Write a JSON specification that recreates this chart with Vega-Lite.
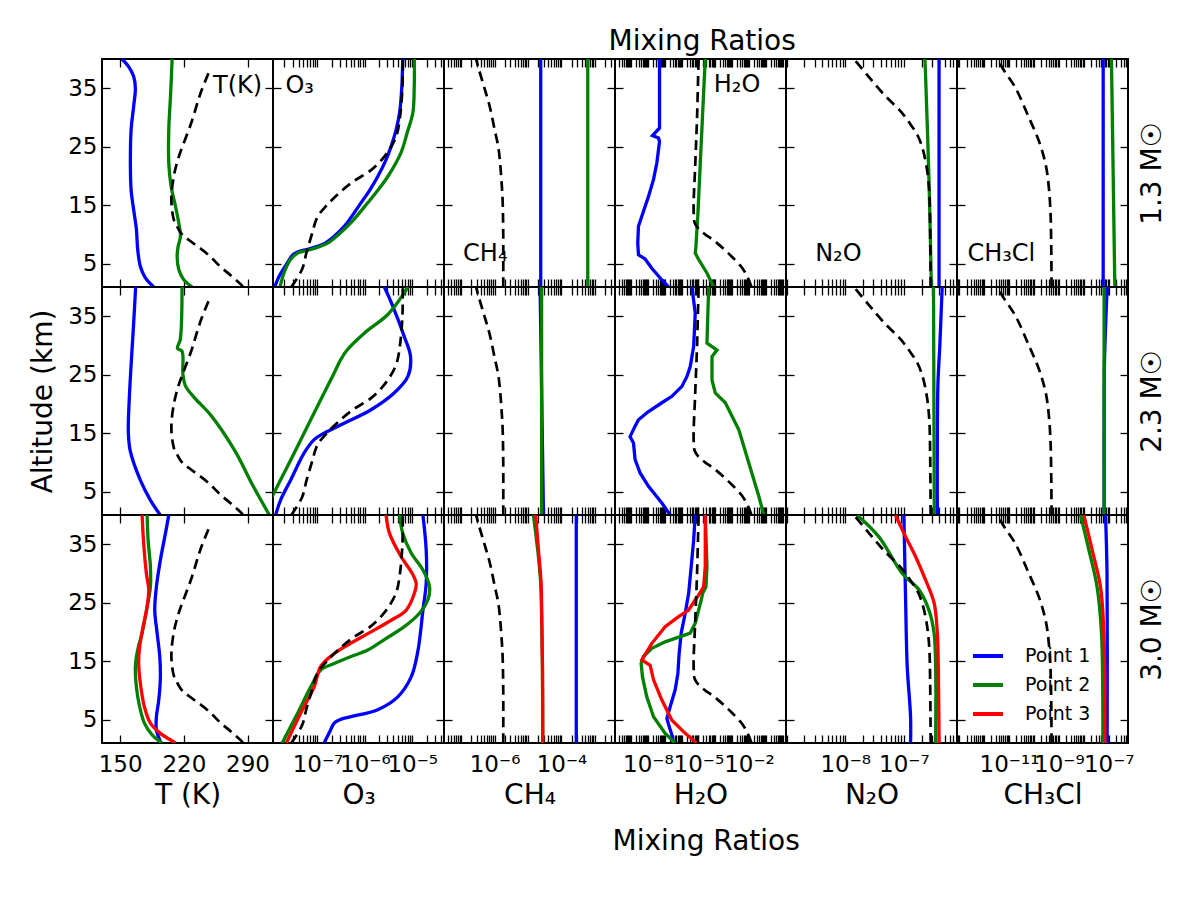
{
  "$schema": "https://vega.github.io/schema/vega-lite/v6.json",
  "background": "white",
  "padding": {"left": 28, "top": 27, "right": 10, "bottom": 10},
  "title": {"text": "Mixing Ratios", "anchor": "middle", "frame": "bounds", "dx": 104, "offset": 1.5},
  "datasets": {
    "pts": [
      {"m":"1.3","g":"T","s":"Point 1","z":40,"v":152},{"m":"1.3","g":"T","s":"Point 1","z":38.7,"v":159.3},{"m":"1.3","g":"T","s":"Point 1","z":37,"v":164.8},{"m":"1.3","g":"T","s":"Point 1","z":35,"v":166.7},{"m":"1.3","g":"T","s":"Point 1","z":31.9,"v":164.8},{"m":"1.3","g":"T","s":"Point 1","z":27.9,"v":162},{"m":"1.3","g":"T","s":"Point 1","z":22.2,"v":161.2},{"m":"1.3","g":"T","s":"Point 1","z":17.6,"v":162},{"m":"1.3","g":"T","s":"Point 1","z":14.2,"v":164.8},{"m":"1.3","g":"T","s":"Point 1","z":10.9,"v":167.8},{"m":"1.3","g":"T","s":"Point 1","z":7.5,"v":169.2},{"m":"1.3","g":"T","s":"Point 1","z":4.5,"v":172.2},{"m":"1.3","g":"T","s":"Point 1","z":2.55,"v":177.7},{"m":"1.3","g":"T","s":"Point 1","z":1,"v":186.9},
      {"m":"1.3","g":"T","s":"Point 2","z":40,"v":207.1},{"m":"1.3","g":"T","s":"Point 2","z":33.6,"v":205.3},{"m":"1.3","g":"T","s":"Point 2","z":27.9,"v":203.4},{"m":"1.3","g":"T","s":"Point 2","z":22.2,"v":203.4},{"m":"1.3","g":"T","s":"Point 2","z":18.2,"v":206},{"m":"1.3","g":"T","s":"Point 2","z":14.8,"v":210.8},{"m":"1.3","g":"T","s":"Point 2","z":11.95,"v":214.4},{"m":"1.3","g":"T","s":"Point 2","z":9.7,"v":216.3},{"m":"1.3","g":"T","s":"Point 2","z":7.95,"v":213.7},{"m":"1.3","g":"T","s":"Point 2","z":6.2,"v":212.6},{"m":"1.3","g":"T","s":"Point 2","z":4,"v":214.4},{"m":"1.3","g":"T","s":"Point 2","z":2.25,"v":219.9},{"m":"1.3","g":"T","s":"Point 2","z":1,"v":229.2},
      {"m":"2.3","g":"T","s":"Point 1","z":40,"v":167},{"m":"2.3","g":"T","s":"Point 1","z":33,"v":164.5},{"m":"2.3","g":"T","s":"Point 1","z":24,"v":161},{"m":"2.3","g":"T","s":"Point 1","z":17,"v":159},{"m":"2.3","g":"T","s":"Point 1","z":15,"v":159},{"m":"2.3","g":"T","s":"Point 1","z":12,"v":161},{"m":"2.3","g":"T","s":"Point 1","z":7,"v":172},{"m":"2.3","g":"T","s":"Point 1","z":3.6,"v":183},{"m":"2.3","g":"T","s":"Point 1","z":1,"v":194},
      {"m":"2.3","g":"T","s":"Point 2","z":40,"v":218},{"m":"2.3","g":"T","s":"Point 2","z":31,"v":216},{"m":"2.3","g":"T","s":"Point 2","z":29.5,"v":213},{"m":"2.3","g":"T","s":"Point 2","z":29,"v":218},{"m":"2.3","g":"T","s":"Point 2","z":25,"v":219},{"m":"2.3","g":"T","s":"Point 2","z":23,"v":222},{"m":"2.3","g":"T","s":"Point 2","z":21,"v":232},{"m":"2.3","g":"T","s":"Point 2","z":18,"v":250},{"m":"2.3","g":"T","s":"Point 2","z":12,"v":276},{"m":"2.3","g":"T","s":"Point 2","z":6,"v":296},{"m":"2.3","g":"T","s":"Point 2","z":1,"v":314},
      {"m":"3.0","g":"T","s":"Point 1","z":40,"v":203.4},{"m":"3.0","g":"T","s":"Point 1","z":36.9,"v":199.8},{"m":"3.0","g":"T","s":"Point 1","z":32.3,"v":194.2},{"m":"3.0","g":"T","s":"Point 1","z":27.7,"v":189.8},{"m":"3.0","g":"T","s":"Point 1","z":23.75,"v":188},{"m":"3.0","g":"T","s":"Point 1","z":19.8,"v":190.6},{"m":"3.0","g":"T","s":"Point 1","z":15.8,"v":193.5},{"m":"3.0","g":"T","s":"Point 1","z":12.3,"v":194.2},{"m":"3.0","g":"T","s":"Point 1","z":8.35,"v":192.4},{"m":"3.0","g":"T","s":"Point 1","z":5.5,"v":189.8},{"m":"3.0","g":"T","s":"Point 1","z":3.2,"v":189.8},{"m":"3.0","g":"T","s":"Point 1","z":1.5,"v":193.5},{"m":"3.0","g":"T","s":"Point 1","z":1,"v":194.5},
      {"m":"3.0","g":"T","s":"Point 2","z":40,"v":179.6},{"m":"3.0","g":"T","s":"Point 2","z":35.7,"v":180.7},{"m":"3.0","g":"T","s":"Point 2","z":31.2,"v":183.2},{"m":"3.0","g":"T","s":"Point 2","z":27.7,"v":183.2},{"m":"3.0","g":"T","s":"Point 2","z":24.3,"v":179.6},{"m":"3.0","g":"T","s":"Point 2","z":19.8,"v":174.1},{"m":"3.0","g":"T","s":"Point 2","z":16.9,"v":169.2},{"m":"3.0","g":"T","s":"Point 2","z":14.05,"v":166.7},{"m":"3.0","g":"T","s":"Point 2","z":10.6,"v":167.8},{"m":"3.0","g":"T","s":"Point 2","z":7.2,"v":171.4},{"m":"3.0","g":"T","s":"Point 2","z":4.4,"v":176.6},{"m":"3.0","g":"T","s":"Point 2","z":2.4,"v":185.1},{"m":"3.0","g":"T","s":"Point 2","z":1,"v":196},
      {"m":"3.0","g":"T","s":"Point 3","z":40,"v":174.1},{"m":"3.0","g":"T","s":"Point 3","z":35.2,"v":175.8},{"m":"3.0","g":"T","s":"Point 3","z":30,"v":178.8},{"m":"3.0","g":"T","s":"Point 3","z":27.2,"v":181.4},{"m":"3.0","g":"T","s":"Point 3","z":24.3,"v":179.6},{"m":"3.0","g":"T","s":"Point 3","z":20.9,"v":175.2},{"m":"3.0","g":"T","s":"Point 3","z":17.5,"v":171.4},{"m":"3.0","g":"T","s":"Point 3","z":14.6,"v":170.3},{"m":"3.0","g":"T","s":"Point 3","z":11.2,"v":172.2},{"m":"3.0","g":"T","s":"Point 3","z":7.2,"v":176.6},{"m":"3.0","g":"T","s":"Point 3","z":4.4,"v":183.2},{"m":"3.0","g":"T","s":"Point 3","z":2.65,"v":194.2},{"m":"3.0","g":"T","s":"Point 3","z":1.2,"v":208.9},{"m":"3.0","g":"T","s":"Point 3","z":1,"v":211},

      {"m":"1.3","g":"O3","s":"Point 1","z":40,"v":6.3e-6},{"m":"1.3","g":"O3","s":"Point 1","z":35,"v":6.0e-6},{"m":"1.3","g":"O3","s":"Point 1","z":30.8,"v":5.4e-6},{"m":"1.3","g":"O3","s":"Point 1","z":28,"v":4.6e-6},{"m":"1.3","g":"O3","s":"Point 1","z":25.1,"v":3.6e-6},{"m":"1.3","g":"O3","s":"Point 1","z":22.5,"v":2.7e-6},{"m":"1.3","g":"O3","s":"Point 1","z":19.9,"v":1.87e-6},{"m":"1.3","g":"O3","s":"Point 1","z":17.5,"v":1.25e-6},{"m":"1.3","g":"O3","s":"Point 1","z":15.4,"v":8.3e-7},{"m":"1.3","g":"O3","s":"Point 1","z":13.3,"v":5.5e-7},{"m":"1.3","g":"O3","s":"Point 1","z":11.4,"v":3.7e-7},{"m":"1.3","g":"O3","s":"Point 1","z":9.6,"v":2.2e-7},{"m":"1.3","g":"O3","s":"Point 1","z":8.3,"v":1.3e-7},{"m":"1.3","g":"O3","s":"Point 1","z":7.5,"v":6.5e-8},{"m":"1.3","g":"O3","s":"Point 1","z":7,"v":3.8e-8},{"m":"1.3","g":"O3","s":"Point 1","z":6.5,"v":3.0e-8},{"m":"1.3","g":"O3","s":"Point 1","z":5.1,"v":2.3e-8},{"m":"1.3","g":"O3","s":"Point 1","z":2.8,"v":1.54e-8},{"m":"1.3","g":"O3","s":"Point 1","z":1,"v":1.25e-8},
      {"m":"1.3","g":"O3","s":"Point 2","z":40,"v":1.11e-5},{"m":"1.3","g":"O3","s":"Point 2","z":35,"v":1.1e-5},{"m":"1.3","g":"O3","s":"Point 2","z":30.8,"v":1.03e-5},{"m":"1.3","g":"O3","s":"Point 2","z":27.5,"v":7.9e-6},{"m":"1.3","g":"O3","s":"Point 2","z":24,"v":5.8e-6},{"m":"1.3","g":"O3","s":"Point 2","z":19.9,"v":3.05e-6},{"m":"1.3","g":"O3","s":"Point 2","z":17.5,"v":1.86e-6},{"m":"1.3","g":"O3","s":"Point 2","z":15.4,"v":1.15e-6},{"m":"1.3","g":"O3","s":"Point 2","z":12,"v":5.1e-7},{"m":"1.3","g":"O3","s":"Point 2","z":10,"v":2.8e-7},{"m":"1.3","g":"O3","s":"Point 2","z":8.5,"v":1.63e-7},{"m":"1.3","g":"O3","s":"Point 2","z":7.5,"v":7.9e-8},{"m":"1.3","g":"O3","s":"Point 2","z":6.8,"v":3.8e-8},{"m":"1.3","g":"O3","s":"Point 2","z":5.7,"v":2.7e-8},{"m":"1.3","g":"O3","s":"Point 2","z":3.4,"v":1.96e-8},{"m":"1.3","g":"O3","s":"Point 2","z":1,"v":1.62e-8},
      {"m":"2.3","g":"O3","s":"Point 1","z":40,"v":2.58e-6},{"m":"2.3","g":"O3","s":"Point 1","z":36.7,"v":3.9e-6},{"m":"2.3","g":"O3","s":"Point 1","z":31.5,"v":6.8e-6},{"m":"2.3","g":"O3","s":"Point 1","z":28.1,"v":9.2e-6},{"m":"2.3","g":"O3","s":"Point 1","z":24.7,"v":8.1e-6},{"m":"2.3","g":"O3","s":"Point 1","z":21.9,"v":4.2e-6},{"m":"2.3","g":"O3","s":"Point 1","z":19,"v":1.35e-6},{"m":"2.3","g":"O3","s":"Point 1","z":16.7,"v":3.66e-7},{"m":"2.3","g":"O3","s":"Point 1","z":15,"v":1.38e-7},{"m":"2.3","g":"O3","s":"Point 1","z":13.9,"v":8.5e-8},{"m":"2.3","g":"O3","s":"Point 1","z":11.6,"v":5.2e-8},{"m":"2.3","g":"O3","s":"Point 1","z":7,"v":2.72e-8},{"m":"2.3","g":"O3","s":"Point 1","z":3.6,"v":1.67e-8},{"m":"2.3","g":"O3","s":"Point 1","z":1,"v":1.31e-8},
      {"m":"2.3","g":"O3","s":"Point 2","z":40,"v":8.1e-6},{"m":"2.3","g":"O3","s":"Point 2","z":39,"v":6.8e-6},{"m":"2.3","g":"O3","s":"Point 2","z":35.3,"v":3.05e-6},{"m":"2.3","g":"O3","s":"Point 2","z":32.1,"v":9.7e-7},{"m":"2.3","g":"O3","s":"Point 2","z":29.3,"v":4.3e-7},{"m":"2.3","g":"O3","s":"Point 2","z":27.6,"v":3.1e-7},{"m":"2.3","g":"O3","s":"Point 2","z":25.3,"v":2.25e-7},{"m":"2.3","g":"O3","s":"Point 2","z":20.7,"v":1.17e-7},{"m":"2.3","g":"O3","s":"Point 2","z":15,"v":5.2e-8},{"m":"2.3","g":"O3","s":"Point 2","z":9.3,"v":2.32e-8},{"m":"2.3","g":"O3","s":"Point 2","z":3.6,"v":1.02e-8},{"m":"2.3","g":"O3","s":"Point 2","z":1,"v":7.1e-9},
      {"m":"3.0","g":"O3","s":"Point 1","z":40,"v":1.68e-5},{"m":"3.0","g":"O3","s":"Point 1","z":34,"v":1.97e-5},{"m":"3.0","g":"O3","s":"Point 1","z":28.3,"v":1.97e-5},{"m":"3.0","g":"O3","s":"Point 1","z":23.7,"v":1.68e-5},{"m":"3.0","g":"O3","s":"Point 1","z":16.8,"v":1.32e-5},{"m":"3.0","g":"O3","s":"Point 1","z":12.3,"v":9.5e-6},{"m":"3.0","g":"O3","s":"Point 1","z":8.9,"v":4.95e-6},{"m":"3.0","g":"O3","s":"Point 1","z":6.7,"v":1.87e-6},{"m":"3.0","g":"O3","s":"Point 1","z":5.5,"v":5.1e-7},{"m":"3.0","g":"O3","s":"Point 1","z":5,"v":3.0e-7},{"m":"3.0","g":"O3","s":"Point 1","z":4.4,"v":2.25e-7},{"m":"3.0","g":"O3","s":"Point 1","z":2.7,"v":1.76e-7},{"m":"3.0","g":"O3","s":"Point 1","z":1,"v":1.38e-7},
      {"m":"3.0","g":"O3","s":"Point 2","z":40,"v":5.4e-6},{"m":"3.0","g":"O3","s":"Point 2","z":36.9,"v":6.3e-6},{"m":"3.0","g":"O3","s":"Point 2","z":33.5,"v":9.5e-6},{"m":"3.0","g":"O3","s":"Point 2","z":30.6,"v":1.68e-5},{"m":"3.0","g":"O3","s":"Point 2","z":27.7,"v":2.32e-5},{"m":"3.0","g":"O3","s":"Point 2","z":25.5,"v":2.14e-5},{"m":"3.0","g":"O3","s":"Point 2","z":23.2,"v":1.42e-5},{"m":"3.0","g":"O3","s":"Point 2","z":20.9,"v":6.8e-6},{"m":"3.0","g":"O3","s":"Point 2","z":18.7,"v":2.58e-6},{"m":"3.0","g":"O3","s":"Point 2","z":16.9,"v":1.15e-6},{"m":"3.0","g":"O3","s":"Point 2","z":15.8,"v":5.1e-7},{"m":"3.0","g":"O3","s":"Point 2","z":14.6,"v":2.25e-7},{"m":"3.0","g":"O3","s":"Point 2","z":13.5,"v":1.17e-7},{"m":"3.0","g":"O3","s":"Point 2","z":10.6,"v":7.2e-8},{"m":"3.0","g":"O3","s":"Point 2","z":6.1,"v":3.8e-8},{"m":"3.0","g":"O3","s":"Point 2","z":1,"v":1.8e-8},
      {"m":"3.0","g":"O3","s":"Point 3","z":40,"v":2.8e-6},{"m":"3.0","g":"O3","s":"Point 3","z":36.9,"v":3.3e-6},{"m":"3.0","g":"O3","s":"Point 3","z":32.9,"v":5.8e-6},{"m":"3.0","g":"O3","s":"Point 3","z":30,"v":1.0e-5},{"m":"3.0","g":"O3","s":"Point 3","z":28.3,"v":1.21e-5},{"m":"3.0","g":"O3","s":"Point 3","z":26.6,"v":1.11e-5},{"m":"3.0","g":"O3","s":"Point 3","z":23.7,"v":7.4e-6},{"m":"3.0","g":"O3","s":"Point 3","z":22,"v":3.6e-6},{"m":"3.0","g":"O3","s":"Point 3","z":19.7,"v":1.15e-6},{"m":"3.0","g":"O3","s":"Point 3","z":18.1,"v":5.1e-7},{"m":"3.0","g":"O3","s":"Point 3","z":16.3,"v":2.25e-7},{"m":"3.0","g":"O3","s":"Point 3","z":14.1,"v":1.17e-7},{"m":"3.0","g":"O3","s":"Point 3","z":10.6,"v":8.5e-8},{"m":"3.0","g":"O3","s":"Point 3","z":6.1,"v":4.4e-8},{"m":"3.0","g":"O3","s":"Point 3","z":1,"v":2.2e-8},

      {"m":"1.3","g":"CH4","s":"Point 1","z":40,"v":2.4e-5},{"m":"1.3","g":"CH4","s":"Point 1","z":1,"v":2.4e-5},
      {"m":"1.3","g":"CH4","s":"Point 2","z":40,"v":6.1e-4},{"m":"1.3","g":"CH4","s":"Point 2","z":1,"v":6.1e-4},
      {"m":"2.3","g":"CH4","s":"Point 1","z":40,"v":2.3e-5},{"m":"2.3","g":"CH4","s":"Point 1","z":1,"v":2.9e-5},
      {"m":"2.3","g":"CH4","s":"Point 2","z":40,"v":2.55e-5},{"m":"2.3","g":"CH4","s":"Point 2","z":1,"v":2.55e-5},
      {"m":"3.0","g":"CH4","s":"Point 1","z":40,"v":2.77e-4},{"m":"3.0","g":"CH4","s":"Point 1","z":1,"v":2.77e-4},
      {"m":"3.0","g":"CH4","s":"Point 2","z":40,"v":1.45e-5},{"m":"3.0","g":"CH4","s":"Point 2","z":34,"v":1.95e-5},{"m":"3.0","g":"CH4","s":"Point 2","z":28.3,"v":2.4e-5},{"m":"3.0","g":"CH4","s":"Point 2","z":22.6,"v":2.55e-5},{"m":"3.0","g":"CH4","s":"Point 2","z":14.1,"v":2.7e-5},{"m":"3.0","g":"CH4","s":"Point 2","z":1,"v":2.75e-5},
      {"m":"3.0","g":"CH4","s":"Point 3","z":40,"v":1.7e-5},{"m":"3.0","g":"CH4","s":"Point 3","z":34,"v":2.06e-5},{"m":"3.0","g":"CH4","s":"Point 3","z":28.3,"v":2.46e-5},{"m":"3.0","g":"CH4","s":"Point 3","z":22.6,"v":2.58e-5},{"m":"3.0","g":"CH4","s":"Point 3","z":14.1,"v":2.71e-5},{"m":"3.0","g":"CH4","s":"Point 3","z":1,"v":2.77e-5},

      {"m":"1.3","g":"H2O","s":"Point 1","z":40,"v":4.93e-8},{"m":"1.3","g":"H2O","s":"Point 1","z":28.2,"v":4.93e-8},{"m":"1.3","g":"H2O","s":"Point 1","z":26.9,"v":1.89e-8},{"m":"1.3","g":"H2O","s":"Point 1","z":26.5,"v":4.3e-8},{"m":"1.3","g":"H2O","s":"Point 1","z":25.9,"v":4.93e-8},{"m":"1.3","g":"H2O","s":"Point 1","z":22.2,"v":3.4e-8},{"m":"1.3","g":"H2O","s":"Point 1","z":19.4,"v":2.17e-8},{"m":"1.3","g":"H2O","s":"Point 1","z":16.5,"v":1.09e-8},{"m":"1.3","g":"H2O","s":"Point 1","z":13.1,"v":4.37e-9},{"m":"1.3","g":"H2O","s":"Point 1","z":11.4,"v":2.77e-9},{"m":"1.3","g":"H2O","s":"Point 1","z":8.5,"v":2.51e-9},{"m":"1.3","g":"H2O","s":"Point 1","z":6.5,"v":2.77e-9},{"m":"1.3","g":"H2O","s":"Point 1","z":5.8,"v":6.85e-9},{"m":"1.3","g":"H2O","s":"Point 1","z":4.2,"v":1.72e-8},{"m":"1.3","g":"H2O","s":"Point 1","z":2.2,"v":6.76e-8},{"m":"1.3","g":"H2O","s":"Point 1","z":1,"v":1.69e-7},
      {"m":"1.3","g":"H2O","s":"Point 2","z":40,"v":2.55e-5},{"m":"1.3","g":"H2O","s":"Point 2","z":30.8,"v":1.79e-5},{"m":"1.3","g":"H2O","s":"Point 2","z":22.2,"v":1.29e-5},{"m":"1.3","g":"H2O","s":"Point 2","z":13.7,"v":9.4e-6},{"m":"1.3","g":"H2O","s":"Point 2","z":7.9,"v":7.1e-6},{"m":"1.3","g":"H2O","s":"Point 2","z":6.8,"v":6.5e-6},{"m":"1.3","g":"H2O","s":"Point 2","z":5.7,"v":1.03e-5},{"m":"1.3","g":"H2O","s":"Point 2","z":3.4,"v":3.2e-5},{"m":"1.3","g":"H2O","s":"Point 2","z":1,"v":8.1e-5},
      {"m":"2.3","g":"H2O","s":"Point 1","z":40,"v":4.12e-6},{"m":"2.3","g":"H2O","s":"Point 1","z":35.55,"v":6.49e-6},{"m":"2.3","g":"H2O","s":"Point 1","z":29.8,"v":5.21e-6},{"m":"2.3","g":"H2O","s":"Point 1","z":26.4,"v":3.27e-6},{"m":"2.3","g":"H2O","s":"Point 1","z":24.7,"v":2.09e-6},{"m":"2.3","g":"H2O","s":"Point 1","z":23,"v":1.05e-6},{"m":"2.3","g":"H2O","s":"Point 1","z":21.3,"v":2.66e-7},{"m":"2.3","g":"H2O","s":"Point 1","z":20.2,"v":6.76e-8},{"m":"2.3","g":"H2O","s":"Point 1","z":18.7,"v":1.09e-8},{"m":"2.3","g":"H2O","s":"Point 1","z":17.3,"v":2.77e-9},{"m":"2.3","g":"H2O","s":"Point 1","z":16.2,"v":1.74e-9},{"m":"2.3","g":"H2O","s":"Point 1","z":14.4,"v":8.8e-10},{"m":"2.3","g":"H2O","s":"Point 1","z":13.3,"v":1.4e-9},{"m":"2.3","g":"H2O","s":"Point 1","z":10.5,"v":1.74e-9},{"m":"2.3","g":"H2O","s":"Point 1","z":8.2,"v":3.45e-9},{"m":"2.3","g":"H2O","s":"Point 1","z":5.9,"v":1.09e-8},{"m":"2.3","g":"H2O","s":"Point 1","z":3.05,"v":6.76e-8},{"m":"2.3","g":"H2O","s":"Point 1","z":1,"v":2.11e-7},
      {"m":"2.3","g":"H2O","s":"Point 2","z":40,"v":4.07e-5},{"m":"2.3","g":"H2O","s":"Point 2","z":30.4,"v":3.22e-5},{"m":"2.3","g":"H2O","s":"Point 2","z":29.2,"v":1.27e-4},{"m":"2.3","g":"H2O","s":"Point 2","z":28.1,"v":6.4e-5},{"m":"2.3","g":"H2O","s":"Point 2","z":24.1,"v":6.4e-5},{"m":"2.3","g":"H2O","s":"Point 2","z":21.9,"v":1.0e-4},{"m":"2.3","g":"H2O","s":"Point 2","z":20.2,"v":3.96e-4},{"m":"2.3","g":"H2O","s":"Point 2","z":15.6,"v":2.48e-3},{"m":"2.3","g":"H2O","s":"Point 2","z":9.9,"v":9.8e-3},{"m":"2.3","g":"H2O","s":"Point 2","z":4.2,"v":3.85e-2},{"m":"2.3","g":"H2O","s":"Point 2","z":1,"v":7.6e-2},
      {"m":"3.0","g":"H2O","s":"Point 1","z":40,"v":6.49e-6},{"m":"3.0","g":"H2O","s":"Point 1","z":35.7,"v":5.21e-6},{"m":"3.0","g":"H2O","s":"Point 1","z":31.2,"v":3.75e-6},{"m":"3.0","g":"H2O","s":"Point 1","z":26.6,"v":2.63e-6},{"m":"3.0","g":"H2O","s":"Point 1","z":23.2,"v":1.65e-6},{"m":"3.0","g":"H2O","s":"Point 1","z":19.8,"v":9.5e-7},{"m":"3.0","g":"H2O","s":"Point 1","z":16.35,"v":7.2e-7},{"m":"3.0","g":"H2O","s":"Point 1","z":12.9,"v":6.05e-7},{"m":"3.0","g":"H2O","s":"Point 1","z":10.1,"v":4.18e-7},{"m":"3.0","g":"H2O","s":"Point 1","z":7.2,"v":2.11e-7},{"m":"3.0","g":"H2O","s":"Point 1","z":5.2,"v":1.34e-7},{"m":"3.0","g":"H2O","s":"Point 1","z":3.8,"v":1.84e-7},{"m":"3.0","g":"H2O","s":"Point 1","z":2.4,"v":2.66e-7},{"m":"3.0","g":"H2O","s":"Point 1","z":1,"v":3.36e-7},
      {"m":"3.0","g":"H2O","s":"Point 2","z":40,"v":2.55e-5},{"m":"3.0","g":"H2O","s":"Point 2","z":31.2,"v":3.22e-5},{"m":"3.0","g":"H2O","s":"Point 2","z":27.7,"v":2.81e-5},{"m":"3.0","g":"H2O","s":"Point 2","z":26.6,"v":1.79e-5},{"m":"3.0","g":"H2O","s":"Point 2","z":25.5,"v":1.48e-5},{"m":"3.0","g":"H2O","s":"Point 2","z":23.75,"v":1.03e-5},{"m":"3.0","g":"H2O","s":"Point 2","z":21.5,"v":6.49e-6},{"m":"3.0","g":"H2O","s":"Point 2","z":19.8,"v":3.27e-6},{"m":"3.0","g":"H2O","s":"Point 2","z":19.2,"v":8.3e-7},{"m":"3.0","g":"H2O","s":"Point 2","z":18.3,"v":1.06e-7},{"m":"3.0","g":"H2O","s":"Point 2","z":17.2,"v":1.72e-8},{"m":"3.0","g":"H2O","s":"Point 2","z":15.8,"v":5.5e-9},{"m":"3.0","g":"H2O","s":"Point 2","z":14.6,"v":3.98e-9},{"m":"3.0","g":"H2O","s":"Point 2","z":12.3,"v":4.8e-9},{"m":"3.0","g":"H2O","s":"Point 2","z":8.9,"v":8.6e-9},{"m":"3.0","g":"H2O","s":"Point 2","z":5.5,"v":2.17e-8},{"m":"3.0","g":"H2O","s":"Point 2","z":2.65,"v":1.06e-7},{"m":"3.0","g":"H2O","s":"Point 2","z":1,"v":4.18e-7},
      {"m":"3.0","g":"H2O","s":"Point 3","z":40,"v":2.55e-5},{"m":"3.0","g":"H2O","s":"Point 3","z":31.2,"v":2.55e-5},{"m":"3.0","g":"H2O","s":"Point 3","z":27.7,"v":2.04e-5},{"m":"3.0","g":"H2O","s":"Point 3","z":26.3,"v":1.03e-5},{"m":"3.0","g":"H2O","s":"Point 3","z":25.5,"v":6.49e-6},{"m":"3.0","g":"H2O","s":"Point 3","z":23.75,"v":2.63e-6},{"m":"3.0","g":"H2O","s":"Point 3","z":22.6,"v":6.67e-7},{"m":"3.0","g":"H2O","s":"Point 3","z":20.9,"v":1.06e-7},{"m":"3.0","g":"H2O","s":"Point 3","z":18.05,"v":1.72e-8},{"m":"3.0","g":"H2O","s":"Point 3","z":15.2,"v":4.37e-9},{"m":"3.0","g":"H2O","s":"Point 3","z":14.3,"v":1.36e-8},{"m":"3.0","g":"H2O","s":"Point 3","z":11.8,"v":2.17e-8},{"m":"3.0","g":"H2O","s":"Point 3","z":8.35,"v":6.76e-8},{"m":"3.0","g":"H2O","s":"Point 3","z":4.9,"v":2.66e-7},{"m":"3.0","g":"H2O","s":"Point 3","z":2.65,"v":1.65e-6},{"m":"3.0","g":"H2O","s":"Point 3","z":1.2,"v":6.49e-6},{"m":"3.0","g":"H2O","s":"Point 3","z":1,"v":7.5e-6},

      {"m":"1.3","g":"N2O","s":"Point 1","z":40,"v":3.98e-7},{"m":"1.3","g":"N2O","s":"Point 1","z":1,"v":3.98e-7},
      {"m":"1.3","g":"N2O","s":"Point 2","z":40,"v":2.29e-7},{"m":"1.3","g":"N2O","s":"Point 2","z":19.4,"v":2.68e-7},{"m":"1.3","g":"N2O","s":"Point 2","z":1,"v":2.94e-7},
      {"m":"2.3","g":"N2O","s":"Point 1","z":40,"v":4.5e-7},{"m":"2.3","g":"N2O","s":"Point 1","z":30,"v":4.1e-7},{"m":"2.3","g":"N2O","s":"Point 1","z":23,"v":3.8e-7},{"m":"2.3","g":"N2O","s":"Point 1","z":1,"v":3.72e-7},
      {"m":"2.3","g":"N2O","s":"Point 2","z":40,"v":3.2e-7},{"m":"2.3","g":"N2O","s":"Point 2","z":1,"v":3.3e-7},
      {"m":"3.0","g":"N2O","s":"Point 1","z":40,"v":1.0e-7},{"m":"3.0","g":"N2O","s":"Point 1","z":25.5,"v":1.07e-7},{"m":"3.0","g":"N2O","s":"Point 1","z":14.1,"v":1.14e-7},{"m":"3.0","g":"N2O","s":"Point 1","z":5.5,"v":1.3e-7},{"m":"3.0","g":"N2O","s":"Point 1","z":1,"v":1.3e-7},
      {"m":"3.0","g":"N2O","s":"Point 2","z":40,"v":1.59e-8},{"m":"3.0","g":"N2O","s":"Point 2","z":36.3,"v":3.73e-8},{"m":"3.0","g":"N2O","s":"Point 2","z":30,"v":9.4e-8},{"m":"3.0","g":"N2O","s":"Point 2","z":27.2,"v":1.81e-7},{"m":"3.0","g":"N2O","s":"Point 2","z":23.7,"v":2.68e-7},{"m":"3.0","g":"N2O","s":"Point 2","z":19.8,"v":3.27e-7},{"m":"3.0","g":"N2O","s":"Point 2","z":14.1,"v":3.48e-7},{"m":"3.0","g":"N2O","s":"Point 2","z":1,"v":3.48e-7},
      {"m":"3.0","g":"N2O","s":"Point 3","z":40,"v":7.2e-8},{"m":"3.0","g":"N2O","s":"Point 3","z":36.3,"v":1.07e-7},{"m":"3.0","g":"N2O","s":"Point 3","z":32.9,"v":1.58e-7},{"m":"3.0","g":"N2O","s":"Point 3","z":28.9,"v":2.34e-7},{"m":"3.0","g":"N2O","s":"Point 3","z":25,"v":3.27e-7},{"m":"3.0","g":"N2O","s":"Point 3","z":19.8,"v":3.72e-7},{"m":"3.0","g":"N2O","s":"Point 3","z":14.1,"v":3.86e-7},{"m":"3.0","g":"N2O","s":"Point 3","z":1,"v":3.98e-7},

      {"m":"1.3","g":"CH3Cl","s":"Point 1","z":40,"v":5.97e-8},{"m":"1.3","g":"CH3Cl","s":"Point 1","z":1,"v":5.97e-8},
      {"m":"1.3","g":"CH3Cl","s":"Point 2","z":40,"v":1.28e-7},{"m":"1.3","g":"CH3Cl","s":"Point 2","z":1,"v":1.75e-7},
      {"m":"2.3","g":"CH3Cl","s":"Point 1","z":40,"v":8.6e-8},{"m":"2.3","g":"CH3Cl","s":"Point 1","z":30,"v":7.0e-8},{"m":"2.3","g":"CH3Cl","s":"Point 1","z":25,"v":6.6e-8},{"m":"2.3","g":"CH3Cl","s":"Point 1","z":1,"v":6.5e-8},
      {"m":"2.3","g":"CH3Cl","s":"Point 2","z":40,"v":6.5e-8},{"m":"2.3","g":"CH3Cl","s":"Point 2","z":1,"v":6.5e-8},
      {"m":"3.0","g":"CH3Cl","s":"Point 1","z":40,"v":7.4e-8},{"m":"3.0","g":"CH3Cl","s":"Point 1","z":30,"v":8.5e-8},{"m":"3.0","g":"CH3Cl","s":"Point 1","z":1,"v":8.6e-8},
      {"m":"3.0","g":"CH3Cl","s":"Point 2","z":40,"v":7.4e-9},{"m":"3.0","g":"CH3Cl","s":"Point 2","z":34,"v":1.6e-8},{"m":"3.0","g":"CH3Cl","s":"Point 2","z":27.7,"v":3.4e-8},{"m":"3.0","g":"CH3Cl","s":"Point 2","z":19.8,"v":5.1e-8},{"m":"3.0","g":"CH3Cl","s":"Point 2","z":1,"v":5.8e-8},
      {"m":"3.0","g":"CH3Cl","s":"Point 3","z":40,"v":1.0e-8},{"m":"3.0","g":"CH3Cl","s":"Point 3","z":34,"v":2.17e-8},{"m":"3.0","g":"CH3Cl","s":"Point 3","z":27.7,"v":4.66e-8},{"m":"3.0","g":"CH3Cl","s":"Point 3","z":19.8,"v":6.37e-8},{"m":"3.0","g":"CH3Cl","s":"Point 3","z":1,"v":7.0e-8}
    ],
    "ref": [
      {"g":"T","z":38.3,"v":249},{"g":"T","z":34,"v":238},{"g":"T","z":29,"v":228},{"g":"T","z":24,"v":216},{"g":"T","z":22,"v":212},{"g":"T","z":20,"v":209},{"g":"T","z":17,"v":206.5},{"g":"T","z":15,"v":206.5},{"g":"T","z":12.5,"v":209},{"g":"T","z":11.5,"v":212},{"g":"T","z":10,"v":218},{"g":"T","z":9,"v":226},{"g":"T","z":6.5,"v":247},{"g":"T","z":4.5,"v":260},{"g":"T","z":2.8,"v":273},{"g":"T","z":1.4,"v":283},{"g":"T","z":1,"v":285},
      {"g":"O3","z":40,"v":6.3e-6},{"g":"O3","z":35,"v":6.2e-6},{"g":"O3","z":30,"v":5.5e-6},{"g":"O3","z":27,"v":4.7e-6},{"g":"O3","z":25,"v":3.6e-6},{"g":"O3","z":23,"v":2.4e-6},{"g":"O3","z":21,"v":1.35e-6},{"g":"O3","z":19,"v":5.6e-7},{"g":"O3","z":17,"v":2.8e-7},{"g":"O3","z":15,"v":1.58e-7},{"g":"O3","z":13,"v":1.0e-7},{"g":"O3","z":10,"v":7.6e-8},{"g":"O3","z":7,"v":5.9e-8},{"g":"O3","z":4,"v":4.7e-8},{"g":"O3","z":1,"v":2.8e-8},
      {"g":"CH4","z":40,"v":2.8e-7},{"g":"CH4","z":38,"v":3.5e-7},{"g":"CH4","z":35,"v":5.0e-7},{"g":"CH4","z":32,"v":7.1e-7},{"g":"CH4","z":28,"v":1.0e-6},{"g":"CH4","z":25,"v":1.29e-6},{"g":"CH4","z":22,"v":1.48e-6},{"g":"CH4","z":19,"v":1.62e-6},{"g":"CH4","z":16,"v":1.74e-6},{"g":"CH4","z":10,"v":1.82e-6},{"g":"CH4","z":1,"v":1.82e-6},
      {"g":"H2O","z":40,"v":1.02e-5},{"g":"H2O","z":30,"v":8.3e-6},{"g":"H2O","z":22,"v":6.5e-6},{"g":"H2O","z":14,"v":5.2e-6},{"g":"H2O","z":12,"v":6.0e-6},{"g":"H2O","z":11,"v":1.0e-5},{"g":"H2O","z":10,"v":2.5e-5},{"g":"H2O","z":9,"v":7.9e-5},{"g":"H2O","z":7.5,"v":3.2e-4},{"g":"H2O","z":6,"v":1.12e-3},{"g":"H2O","z":4.3,"v":3.9e-3},{"g":"H2O","z":2.5,"v":8.9e-3},{"g":"H2O","z":1,"v":1.41e-2},
      {"g":"N2O","z":40,"v":1.41e-8},{"g":"N2O","z":37,"v":2.5e-8},{"g":"N2O","z":34,"v":4.5e-8},{"g":"N2O","z":31,"v":8.9e-8},{"g":"N2O","z":29,"v":1.26e-7},{"g":"N2O","z":27,"v":1.7e-7},{"g":"N2O","z":25,"v":2.04e-7},{"g":"N2O","z":22,"v":2.4e-7},{"g":"N2O","z":19,"v":2.63e-7},{"g":"N2O","z":16,"v":2.75e-7},{"g":"N2O","z":1,"v":2.86e-7},
      {"g":"CH3Cl","z":40,"v":3.98e-12},{"g":"CH3Cl","z":39,"v":4.7e-12},{"g":"CH3Cl","z":35,"v":1.86e-11},{"g":"CH3Cl","z":30,"v":6.3e-11},{"g":"CH3Cl","z":26,"v":1.58e-10},{"g":"CH3Cl","z":22,"v":2.95e-10},{"g":"CH3Cl","z":18,"v":3.98e-10},{"g":"CH3Cl","z":13,"v":4.7e-10},{"g":"CH3Cl","z":1,"v":5.1e-10}
    ]
  },
  "vconcat": [
    {
      "title": {"text": "Mixing Ratios", "orient": "bottom", "anchor": "middle", "frame": "bounds", "dx": 108, "offset": 18},
      "columns": 6,
      "spacing": 0,
      "bounds": "flush",
      "resolve": {"scale": {"color": "independent"}, "legend": {"color": "independent"}},
      "concat": [
            {"width": 171, "height": 228, "layer": [
              {"data": {"name": "pts"}, "transform": [{"filter": "datum.m==='1.3'&&datum.g==='T'"}],
               "mark": {"type": "line", "strokeWidth": 3.3, "clip": true, "interpolate": "catmull-rom"},
               "encoding": {
                 "x": {"field": "v", "type": "quantitative", "scale": {"domain": [130, 318], "nice": false, "zero": false}, "axis": {"orient": "bottom", "values": [150, 220, 290], "tickSize": -8, "labels": false, "title": null}},
                 "y": {"field": "z", "type": "quantitative", "scale": {"domain": [1, 40], "nice": false, "zero": false}, "axis": {"orient": "left", "values": [5, 15, 25, 35], "tickSize": -8, "labelPadding": 13, "title": null}},
                 "color": {"field": "s", "type": "nominal", "scale": {"domain": ["Point 1", "Point 2", "Point 3"], "range": ["#0000ff", "#008000", "#ff0000"]}, "legend": null},
                 "order": {"field": "z", "type": "quantitative"}}},
              {"data": {"name": "ref"}, "transform": [{"filter": "datum.g==='T'"}],
               "mark": {"type": "line", "color": "#000000", "strokeWidth": 2.7, "strokeDash": [10, 6], "clip": true, "interpolate": "catmull-rom"},
               "encoding": {
                 "x": {"field": "v", "type": "quantitative", "scale": {"domain": [130, 318], "nice": false, "zero": false}, "axis": {"orient": "top", "values": [150, 220, 290], "tickSize": -8, "labels": false, "title": null}},
                 "y": {"field": "z", "type": "quantitative", "scale": {"domain": [1, 40], "nice": false, "zero": false}, "axis": {"orient": "right", "values": [5, 15, 25, 35], "tickSize": -8, "labels": false, "title": null}},
                 "order": {"field": "z", "type": "quantitative"}}},
              {"data": {"values": [{"label": "T(K)"}]},
               "mark": {"type": "text", "align": "left", "baseline": "middle", "fontSize": 24, "font": "DejaVu Sans", "color": "black"},
               "encoding": {"x": {"datum": 252, "type": "quantitative", "axis": null}, "y": {"datum": 35.3, "type": "quantitative", "axis": null}, "text": {"field": "label"}}}
            ]},
            {"width": 171, "height": 228, "layer": [
              {"data": {"name": "pts"}, "transform": [{"filter": "datum.m==='1.3'&&datum.g==='O3'"}],
               "mark": {"type": "line", "strokeWidth": 3.3, "clip": true, "interpolate": "catmull-rom"},
               "encoding": {
                 "x": {"field": "v", "type": "quantitative", "scale": {"type": "log", "domain": [1.15e-8, 4.68e-5], "nice": false}, "axis": {"orient": "bottom", "values": [2e-8,3e-8,4e-8,5e-8,6e-8,7e-8,8e-8,9e-8,1e-7,2e-7,3e-7,4e-7,5e-7,6e-7,7e-7,8e-7,9e-7,1e-6,2e-6,3e-6,4e-6,5e-6,6e-6,7e-6,8e-6,9e-6,1e-5,2e-5,3e-5,4e-5], "tickSize": -8, "encode": {"ticks": {"y2": {"condition": {"test": "indexof([1e-7,1e-6,1e-5], datum.value) >= 0", "value": -8}, "value": -4}}}, "labels": false, "title": null}},
                 "y": {"field": "z", "type": "quantitative", "scale": {"domain": [1, 40], "nice": false, "zero": false}, "axis": {"orient": "left", "values": [5, 15, 25, 35], "tickSize": -8, "labels": false, "title": null}},
                 "color": {"field": "s", "type": "nominal", "scale": {"domain": ["Point 1", "Point 2", "Point 3"], "range": ["#0000ff", "#008000", "#ff0000"]}, "legend": null},
                 "order": {"field": "z", "type": "quantitative"}}},
              {"data": {"name": "ref"}, "transform": [{"filter": "datum.g==='O3'"}],
               "mark": {"type": "line", "color": "#000000", "strokeWidth": 2.7, "strokeDash": [10, 6], "clip": true, "interpolate": "catmull-rom"},
               "encoding": {
                 "x": {"field": "v", "type": "quantitative", "scale": {"type": "log", "domain": [1.15e-8, 4.68e-5], "nice": false}, "axis": {"orient": "top", "values": [2e-8,3e-8,4e-8,5e-8,6e-8,7e-8,8e-8,9e-8,1e-7,2e-7,3e-7,4e-7,5e-7,6e-7,7e-7,8e-7,9e-7,1e-6,2e-6,3e-6,4e-6,5e-6,6e-6,7e-6,8e-6,9e-6,1e-5,2e-5,3e-5,4e-5], "tickSize": -8, "encode": {"ticks": {"y2": {"condition": {"test": "indexof([1e-7,1e-6,1e-5], datum.value) >= 0", "value": 8}, "value": 4}}}, "labels": false, "title": null}},
                 "y": {"field": "z", "type": "quantitative", "scale": {"domain": [1, 40], "nice": false, "zero": false}, "axis": {"orient": "right", "values": [5, 15, 25, 35], "tickSize": -8, "labels": false, "title": null}},
                 "order": {"field": "z", "type": "quantitative"}}},
              {"data": {"values": [{"label": "O₃"}]},
               "mark": {"type": "text", "align": "left", "baseline": "middle", "fontSize": 24, "font": "DejaVu Sans", "color": "black"},
               "encoding": {"x": {"datum": 2.1e-8, "type": "quantitative", "axis": null}, "y": {"datum": 35.3, "type": "quantitative", "axis": null}, "text": {"field": "label"}}}
            ]},
            {"width": 171, "height": 228, "layer": [
              {"data": {"name": "pts"}, "transform": [{"filter": "datum.m==='1.3'&&datum.g==='CH4'"}],
               "mark": {"type": "line", "strokeWidth": 3.3, "clip": true},
               "encoding": {
                 "x": {"field": "v", "type": "quantitative", "scale": {"type": "log", "domain": [3.09e-8, 3.98e-3], "nice": false}, "axis": {"orient": "bottom", "values": [4e-8,5e-8,6e-8,7e-8,8e-8,9e-8,1e-7,2e-7,3e-7,4e-7,5e-7,6e-7,7e-7,8e-7,9e-7,1e-6,2e-6,3e-6,4e-6,5e-6,6e-6,7e-6,8e-6,9e-6,1e-5,2e-5,3e-5,4e-5,5e-5,6e-5,7e-5,8e-5,9e-5,1e-4,2e-4,3e-4,4e-4,5e-4,6e-4,7e-4,8e-4,9e-4,1e-3,2e-3,3e-3], "tickSize": -8, "encode": {"ticks": {"y2": {"condition": {"test": "indexof([1e-6,1e-4], datum.value) >= 0", "value": -8}, "value": -4}}}, "labels": false, "title": null}},
                 "y": {"field": "z", "type": "quantitative", "scale": {"domain": [1, 40], "nice": false, "zero": false}, "axis": {"orient": "left", "values": [5, 15, 25, 35], "tickSize": -8, "labels": false, "title": null}},
                 "color": {"field": "s", "type": "nominal", "scale": {"domain": ["Point 1", "Point 2", "Point 3"], "range": ["#0000ff", "#008000", "#ff0000"]}, "legend": null},
                 "order": {"field": "z", "type": "quantitative"}}},
              {"data": {"name": "ref"}, "transform": [{"filter": "datum.g==='CH4'"}],
               "mark": {"type": "line", "color": "#000000", "strokeWidth": 2.7, "strokeDash": [10, 6], "clip": true, "interpolate": "catmull-rom"},
               "encoding": {
                 "x": {"field": "v", "type": "quantitative", "scale": {"type": "log", "domain": [3.09e-8, 3.98e-3], "nice": false}, "axis": {"orient": "top", "values": [4e-8,5e-8,6e-8,7e-8,8e-8,9e-8,1e-7,2e-7,3e-7,4e-7,5e-7,6e-7,7e-7,8e-7,9e-7,1e-6,2e-6,3e-6,4e-6,5e-6,6e-6,7e-6,8e-6,9e-6,1e-5,2e-5,3e-5,4e-5,5e-5,6e-5,7e-5,8e-5,9e-5,1e-4,2e-4,3e-4,4e-4,5e-4,6e-4,7e-4,8e-4,9e-4,1e-3,2e-3,3e-3], "tickSize": -8, "encode": {"ticks": {"y2": {"condition": {"test": "indexof([1e-6,1e-4], datum.value) >= 0", "value": 8}, "value": 4}}}, "labels": false, "title": null}},
                 "y": {"field": "z", "type": "quantitative", "scale": {"domain": [1, 40], "nice": false, "zero": false}, "axis": {"orient": "right", "values": [5, 15, 25, 35], "tickSize": -8, "labels": false, "title": null}},
                 "order": {"field": "z", "type": "quantitative"}}},
              {"data": {"values": [{"label": "CH₄"}]},
               "mark": {"type": "text", "align": "left", "baseline": "middle", "fontSize": 24, "font": "DejaVu Sans", "color": "black"},
               "encoding": {"x": {"datum": 1.15e-7, "type": "quantitative", "axis": null}, "y": {"datum": 6.7, "type": "quantitative", "axis": null}, "text": {"field": "label"}}}
            ]},
            {"width": 171, "height": 228, "layer": [
              {"data": {"name": "pts"}, "transform": [{"filter": "datum.m==='1.3'&&datum.g==='H2O'"}],
               "mark": {"type": "line", "strokeWidth": 3.3, "clip": true},
               "encoding": {
                 "x": {"field": "v", "type": "quantitative", "scale": {"type": "log", "domain": [1.12e-10, 1.58], "nice": false}, "axis": {"orient": "bottom", "values": [2e-10,3e-10,4e-10,5e-10,6e-10,7e-10,8e-10,9e-10,1e-9,2e-9,3e-9,4e-9,5e-9,6e-9,7e-9,8e-9,9e-9,1e-8,2e-8,3e-8,4e-8,5e-8,6e-8,7e-8,8e-8,9e-8,1e-7,2e-7,3e-7,4e-7,5e-7,6e-7,7e-7,8e-7,9e-7,1e-6,2e-6,3e-6,4e-6,5e-6,6e-6,7e-6,8e-6,9e-6,1e-5,2e-5,3e-5,4e-5,5e-5,6e-5,7e-5,8e-5,9e-5,1e-4,2e-4,3e-4,4e-4,5e-4,6e-4,7e-4,8e-4,9e-4,1e-3,2e-3,3e-3,4e-3,5e-3,6e-3,7e-3,8e-3,9e-3,0.01,0.02,0.03,0.04,0.05,0.06,0.07,0.08,0.09,0.1,0.2,0.3,0.4,0.5,0.6,0.7,0.8,0.9,1], "tickSize": -8, "encode": {"ticks": {"y2": {"condition": {"test": "indexof([1e-8,1e-5,0.01], datum.value) >= 0", "value": -8}, "value": -4}}}, "labels": false, "title": null}},
                 "y": {"field": "z", "type": "quantitative", "scale": {"domain": [1, 40], "nice": false, "zero": false}, "axis": {"orient": "left", "values": [5, 15, 25, 35], "tickSize": -8, "labels": false, "title": null}},
                 "color": {"field": "s", "type": "nominal", "scale": {"domain": ["Point 1", "Point 2", "Point 3"], "range": ["#0000ff", "#008000", "#ff0000"]}, "legend": null},
                 "order": {"field": "z", "type": "quantitative"}}},
              {"data": {"name": "ref"}, "transform": [{"filter": "datum.g==='H2O'"}],
               "mark": {"type": "line", "color": "#000000", "strokeWidth": 2.7, "strokeDash": [10, 6], "clip": true, "interpolate": "catmull-rom"},
               "encoding": {
                 "x": {"field": "v", "type": "quantitative", "scale": {"type": "log", "domain": [1.12e-10, 1.58], "nice": false}, "axis": {"orient": "top", "values": [2e-10,3e-10,4e-10,5e-10,6e-10,7e-10,8e-10,9e-10,1e-9,2e-9,3e-9,4e-9,5e-9,6e-9,7e-9,8e-9,9e-9,1e-8,2e-8,3e-8,4e-8,5e-8,6e-8,7e-8,8e-8,9e-8,1e-7,2e-7,3e-7,4e-7,5e-7,6e-7,7e-7,8e-7,9e-7,1e-6,2e-6,3e-6,4e-6,5e-6,6e-6,7e-6,8e-6,9e-6,1e-5,2e-5,3e-5,4e-5,5e-5,6e-5,7e-5,8e-5,9e-5,1e-4,2e-4,3e-4,4e-4,5e-4,6e-4,7e-4,8e-4,9e-4,1e-3,2e-3,3e-3,4e-3,5e-3,6e-3,7e-3,8e-3,9e-3,0.01,0.02,0.03,0.04,0.05,0.06,0.07,0.08,0.09,0.1,0.2,0.3,0.4,0.5,0.6,0.7,0.8,0.9,1], "tickSize": -8, "encode": {"ticks": {"y2": {"condition": {"test": "indexof([1e-8,1e-5,0.01], datum.value) >= 0", "value": 8}, "value": 4}}}, "labels": false, "title": null}},
                 "y": {"field": "z", "type": "quantitative", "scale": {"domain": [1, 40], "nice": false, "zero": false}, "axis": {"orient": "right", "values": [5, 15, 25, 35], "tickSize": -8, "labels": false, "title": null}},
                 "order": {"field": "z", "type": "quantitative"}}},
              {"data": {"values": [{"label": "H₂O"}]},
               "mark": {"type": "text", "align": "left", "baseline": "middle", "fontSize": 24, "font": "DejaVu Sans", "color": "black"},
               "encoding": {"x": {"datum": 8.1e-5, "type": "quantitative", "axis": null}, "y": {"datum": 35.6, "type": "quantitative", "axis": null}, "text": {"field": "label"}}}
            ]},
            {"width": 171, "height": 228, "layer": [
              {"data": {"name": "pts"}, "transform": [{"filter": "datum.m==='1.3'&&datum.g==='N2O'"}],
               "mark": {"type": "line", "strokeWidth": 3.3, "clip": true, "interpolate": "catmull-rom"},
               "encoding": {
                 "x": {"field": "v", "type": "quantitative", "scale": {"type": "log", "domain": [9.77e-10, 8.05e-7], "nice": false}, "axis": {"orient": "bottom", "values": [1e-9,2e-9,3e-9,4e-9,5e-9,6e-9,7e-9,8e-9,9e-9,1e-8,2e-8,3e-8,4e-8,5e-8,6e-8,7e-8,8e-8,9e-8,1e-7,2e-7,3e-7,4e-7,5e-7,6e-7,7e-7,8e-7], "tickSize": -8, "encode": {"ticks": {"y2": {"condition": {"test": "indexof([1e-8,1e-7], datum.value) >= 0", "value": -8}, "value": -4}}}, "labels": false, "title": null}},
                 "y": {"field": "z", "type": "quantitative", "scale": {"domain": [1, 40], "nice": false, "zero": false}, "axis": {"orient": "left", "values": [5, 15, 25, 35], "tickSize": -8, "labels": false, "title": null}},
                 "color": {"field": "s", "type": "nominal", "scale": {"domain": ["Point 1", "Point 2", "Point 3"], "range": ["#0000ff", "#008000", "#ff0000"]}, "legend": null},
                 "order": {"field": "z", "type": "quantitative"}}},
              {"data": {"name": "ref"}, "transform": [{"filter": "datum.g==='N2O'"}],
               "mark": {"type": "line", "color": "#000000", "strokeWidth": 2.7, "strokeDash": [10, 6], "clip": true, "interpolate": "catmull-rom"},
               "encoding": {
                 "x": {"field": "v", "type": "quantitative", "scale": {"type": "log", "domain": [9.77e-10, 8.05e-7], "nice": false}, "axis": {"orient": "top", "values": [1e-9,2e-9,3e-9,4e-9,5e-9,6e-9,7e-9,8e-9,9e-9,1e-8,2e-8,3e-8,4e-8,5e-8,6e-8,7e-8,8e-8,9e-8,1e-7,2e-7,3e-7,4e-7,5e-7,6e-7,7e-7,8e-7], "tickSize": -8, "encode": {"ticks": {"y2": {"condition": {"test": "indexof([1e-8,1e-7], datum.value) >= 0", "value": 8}, "value": 4}}}, "labels": false, "title": null}},
                 "y": {"field": "z", "type": "quantitative", "scale": {"domain": [1, 40], "nice": false, "zero": false}, "axis": {"orient": "right", "values": [5, 15, 25, 35], "tickSize": -8, "labels": false, "title": null}},
                 "order": {"field": "z", "type": "quantitative"}}},
              {"data": {"values": [{"label": "N₂O"}]},
               "mark": {"type": "text", "align": "left", "baseline": "middle", "fontSize": 24, "font": "DejaVu Sans", "color": "black"},
               "encoding": {"x": {"datum": 3.07e-9, "type": "quantitative", "axis": null}, "y": {"datum": 6.7, "type": "quantitative", "axis": null}, "text": {"field": "label"}}}
            ]},
            {"width": 171, "height": 228, "layer": [
              {"data": {"name": "pts"}, "transform": [{"filter": "datum.m==='1.3'&&datum.g==='CH3Cl'"}],
               "mark": {"type": "line", "strokeWidth": 3.3, "clip": true, "interpolate": "catmull-rom"},
               "encoding": {
                 "x": {"field": "v", "type": "quantitative", "scale": {"type": "log", "domain": [8.32e-14, 5.89e-7], "nice": false}, "axis": {"orient": "bottom", "values": [9e-14,1e-13,2e-13,3e-13,4e-13,5e-13,6e-13,7e-13,8e-13,9e-13,1e-12,2e-12,3e-12,4e-12,5e-12,6e-12,7e-12,8e-12,9e-12,1e-11,2e-11,3e-11,4e-11,5e-11,6e-11,7e-11,8e-11,9e-11,1e-10,2e-10,3e-10,4e-10,5e-10,6e-10,7e-10,8e-10,9e-10,1e-9,2e-9,3e-9,4e-9,5e-9,6e-9,7e-9,8e-9,9e-9,1e-8,2e-8,3e-8,4e-8,5e-8,6e-8,7e-8,8e-8,9e-8,1e-7,2e-7,3e-7,4e-7,5e-7], "tickSize": -8, "encode": {"ticks": {"y2": {"condition": {"test": "indexof([1e-11,1e-9,1e-7], datum.value) >= 0", "value": -8}, "value": -4}}}, "labels": false, "title": null}},
                 "y": {"field": "z", "type": "quantitative", "scale": {"domain": [1, 40], "nice": false, "zero": false}, "axis": {"orient": "left", "values": [5, 15, 25, 35], "tickSize": -8, "labels": false, "title": null}},
                 "color": {"field": "s", "type": "nominal", "scale": {"domain": ["Point 1", "Point 2", "Point 3"], "range": ["#0000ff", "#008000", "#ff0000"]}, "legend": null},
                 "order": {"field": "z", "type": "quantitative"}}},
              {"data": {"name": "ref"}, "transform": [{"filter": "datum.g==='CH3Cl'"}],
               "mark": {"type": "line", "color": "#000000", "strokeWidth": 2.7, "strokeDash": [10, 6], "clip": true, "interpolate": "catmull-rom"},
               "encoding": {
                 "x": {"field": "v", "type": "quantitative", "scale": {"type": "log", "domain": [8.32e-14, 5.89e-7], "nice": false}, "axis": {"orient": "top", "values": [9e-14,1e-13,2e-13,3e-13,4e-13,5e-13,6e-13,7e-13,8e-13,9e-13,1e-12,2e-12,3e-12,4e-12,5e-12,6e-12,7e-12,8e-12,9e-12,1e-11,2e-11,3e-11,4e-11,5e-11,6e-11,7e-11,8e-11,9e-11,1e-10,2e-10,3e-10,4e-10,5e-10,6e-10,7e-10,8e-10,9e-10,1e-9,2e-9,3e-9,4e-9,5e-9,6e-9,7e-9,8e-9,9e-9,1e-8,2e-8,3e-8,4e-8,5e-8,6e-8,7e-8,8e-8,9e-8,1e-7,2e-7,3e-7,4e-7,5e-7], "tickSize": -8, "encode": {"ticks": {"y2": {"condition": {"test": "indexof([1e-11,1e-9,1e-7], datum.value) >= 0", "value": 8}, "value": 4}}}, "labels": false, "title": null}},
                 "y": {"field": "z", "type": "quantitative", "scale": {"domain": [1, 40], "nice": false, "zero": false}, "axis": {"orient": "right", "values": [5, 15, 25, 35], "tickSize": -8, "labels": false, "title": "1.3 M☉", "titleAngle": 270, "titleBaseline": "top", "titlePadding": 10}},
                 "order": {"field": "z", "type": "quantitative"}}},
              {"data": {"values": [{"label": "CH₃Cl"}]},
               "mark": {"type": "text", "align": "left", "baseline": "middle", "fontSize": 24, "font": "DejaVu Sans", "color": "black"},
               "encoding": {"x": {"datum": 2.17e-13, "type": "quantitative", "axis": null}, "y": {"datum": 6.7, "type": "quantitative", "axis": null}, "text": {"field": "label"}}}
            ]},
            {"width": 171, "height": 228, "layer": [
              {"data": {"name": "pts"}, "transform": [{"filter": "datum.m==='2.3'&&datum.g==='T'"}],
               "mark": {"type": "line", "strokeWidth": 3.3, "clip": true, "interpolate": "catmull-rom"},
               "encoding": {
                 "x": {"field": "v", "type": "quantitative", "scale": {"domain": [130, 318], "nice": false, "zero": false}, "axis": {"orient": "bottom", "values": [150, 220, 290], "tickSize": -8, "labels": false, "title": null}},
                 "y": {"field": "z", "type": "quantitative", "scale": {"domain": [1, 40], "nice": false, "zero": false}, "axis": {"orient": "left", "values": [5, 15, 25, 35], "tickSize": -8, "labelPadding": 13, "title": "Altitude (km)", "titlePadding": 10}},
                 "color": {"field": "s", "type": "nominal", "scale": {"domain": ["Point 1", "Point 2", "Point 3"], "range": ["#0000ff", "#008000", "#ff0000"]}, "legend": null},
                 "order": {"field": "z", "type": "quantitative"}}},
              {"data": {"name": "ref"}, "transform": [{"filter": "datum.g==='T'"}],
               "mark": {"type": "line", "color": "#000000", "strokeWidth": 2.7, "strokeDash": [10, 6], "clip": true, "interpolate": "catmull-rom"},
               "encoding": {
                 "x": {"field": "v", "type": "quantitative", "scale": {"domain": [130, 318], "nice": false, "zero": false}, "axis": {"orient": "top", "values": [150, 220, 290], "tickSize": -8, "labels": false, "title": null}},
                 "y": {"field": "z", "type": "quantitative", "scale": {"domain": [1, 40], "nice": false, "zero": false}, "axis": {"orient": "right", "values": [5, 15, 25, 35], "tickSize": -8, "labels": false, "title": null}},
                 "order": {"field": "z", "type": "quantitative"}}}
            ]},
            {"width": 171, "height": 228, "layer": [
              {"data": {"name": "pts"}, "transform": [{"filter": "datum.m==='2.3'&&datum.g==='O3'"}],
               "mark": {"type": "line", "strokeWidth": 3.3, "clip": true, "interpolate": "catmull-rom"},
               "encoding": {
                 "x": {"field": "v", "type": "quantitative", "scale": {"type": "log", "domain": [1.15e-8, 4.68e-5], "nice": false}, "axis": {"orient": "bottom", "values": [2e-8,3e-8,4e-8,5e-8,6e-8,7e-8,8e-8,9e-8,1e-7,2e-7,3e-7,4e-7,5e-7,6e-7,7e-7,8e-7,9e-7,1e-6,2e-6,3e-6,4e-6,5e-6,6e-6,7e-6,8e-6,9e-6,1e-5,2e-5,3e-5,4e-5], "tickSize": -8, "encode": {"ticks": {"y2": {"condition": {"test": "indexof([1e-7,1e-6,1e-5], datum.value) >= 0", "value": -8}, "value": -4}}}, "labels": false, "title": null}},
                 "y": {"field": "z", "type": "quantitative", "scale": {"domain": [1, 40], "nice": false, "zero": false}, "axis": {"orient": "left", "values": [5, 15, 25, 35], "tickSize": -8, "labels": false, "title": null}},
                 "color": {"field": "s", "type": "nominal", "scale": {"domain": ["Point 1", "Point 2", "Point 3"], "range": ["#0000ff", "#008000", "#ff0000"]}, "legend": null},
                 "order": {"field": "z", "type": "quantitative"}}},
              {"data": {"name": "ref"}, "transform": [{"filter": "datum.g==='O3'"}],
               "mark": {"type": "line", "color": "#000000", "strokeWidth": 2.7, "strokeDash": [10, 6], "clip": true, "interpolate": "catmull-rom"},
               "encoding": {
                 "x": {"field": "v", "type": "quantitative", "scale": {"type": "log", "domain": [1.15e-8, 4.68e-5], "nice": false}, "axis": {"orient": "top", "values": [2e-8,3e-8,4e-8,5e-8,6e-8,7e-8,8e-8,9e-8,1e-7,2e-7,3e-7,4e-7,5e-7,6e-7,7e-7,8e-7,9e-7,1e-6,2e-6,3e-6,4e-6,5e-6,6e-6,7e-6,8e-6,9e-6,1e-5,2e-5,3e-5,4e-5], "tickSize": -8, "encode": {"ticks": {"y2": {"condition": {"test": "indexof([1e-7,1e-6,1e-5], datum.value) >= 0", "value": 8}, "value": 4}}}, "labels": false, "title": null}},
                 "y": {"field": "z", "type": "quantitative", "scale": {"domain": [1, 40], "nice": false, "zero": false}, "axis": {"orient": "right", "values": [5, 15, 25, 35], "tickSize": -8, "labels": false, "title": null}},
                 "order": {"field": "z", "type": "quantitative"}}}
            ]},
            {"width": 171, "height": 228, "layer": [
              {"data": {"name": "pts"}, "transform": [{"filter": "datum.m==='2.3'&&datum.g==='CH4'"}],
               "mark": {"type": "line", "strokeWidth": 3.3, "clip": true},
               "encoding": {
                 "x": {"field": "v", "type": "quantitative", "scale": {"type": "log", "domain": [3.09e-8, 3.98e-3], "nice": false}, "axis": {"orient": "bottom", "values": [4e-8,5e-8,6e-8,7e-8,8e-8,9e-8,1e-7,2e-7,3e-7,4e-7,5e-7,6e-7,7e-7,8e-7,9e-7,1e-6,2e-6,3e-6,4e-6,5e-6,6e-6,7e-6,8e-6,9e-6,1e-5,2e-5,3e-5,4e-5,5e-5,6e-5,7e-5,8e-5,9e-5,1e-4,2e-4,3e-4,4e-4,5e-4,6e-4,7e-4,8e-4,9e-4,1e-3,2e-3,3e-3], "tickSize": -8, "encode": {"ticks": {"y2": {"condition": {"test": "indexof([1e-6,1e-4], datum.value) >= 0", "value": -8}, "value": -4}}}, "labels": false, "title": null}},
                 "y": {"field": "z", "type": "quantitative", "scale": {"domain": [1, 40], "nice": false, "zero": false}, "axis": {"orient": "left", "values": [5, 15, 25, 35], "tickSize": -8, "labels": false, "title": null}},
                 "color": {"field": "s", "type": "nominal", "scale": {"domain": ["Point 1", "Point 2", "Point 3"], "range": ["#0000ff", "#008000", "#ff0000"]}, "legend": null},
                 "order": {"field": "z", "type": "quantitative"}}},
              {"data": {"name": "ref"}, "transform": [{"filter": "datum.g==='CH4'"}],
               "mark": {"type": "line", "color": "#000000", "strokeWidth": 2.7, "strokeDash": [10, 6], "clip": true, "interpolate": "catmull-rom"},
               "encoding": {
                 "x": {"field": "v", "type": "quantitative", "scale": {"type": "log", "domain": [3.09e-8, 3.98e-3], "nice": false}, "axis": {"orient": "top", "values": [4e-8,5e-8,6e-8,7e-8,8e-8,9e-8,1e-7,2e-7,3e-7,4e-7,5e-7,6e-7,7e-7,8e-7,9e-7,1e-6,2e-6,3e-6,4e-6,5e-6,6e-6,7e-6,8e-6,9e-6,1e-5,2e-5,3e-5,4e-5,5e-5,6e-5,7e-5,8e-5,9e-5,1e-4,2e-4,3e-4,4e-4,5e-4,6e-4,7e-4,8e-4,9e-4,1e-3,2e-3,3e-3], "tickSize": -8, "encode": {"ticks": {"y2": {"condition": {"test": "indexof([1e-6,1e-4], datum.value) >= 0", "value": 8}, "value": 4}}}, "labels": false, "title": null}},
                 "y": {"field": "z", "type": "quantitative", "scale": {"domain": [1, 40], "nice": false, "zero": false}, "axis": {"orient": "right", "values": [5, 15, 25, 35], "tickSize": -8, "labels": false, "title": null}},
                 "order": {"field": "z", "type": "quantitative"}}}
            ]},
            {"width": 171, "height": 228, "layer": [
              {"data": {"name": "pts"}, "transform": [{"filter": "datum.m==='2.3'&&datum.g==='H2O'"}],
               "mark": {"type": "line", "strokeWidth": 3.3, "clip": true},
               "encoding": {
                 "x": {"field": "v", "type": "quantitative", "scale": {"type": "log", "domain": [1.12e-10, 1.58], "nice": false}, "axis": {"orient": "bottom", "values": [2e-10,3e-10,4e-10,5e-10,6e-10,7e-10,8e-10,9e-10,1e-9,2e-9,3e-9,4e-9,5e-9,6e-9,7e-9,8e-9,9e-9,1e-8,2e-8,3e-8,4e-8,5e-8,6e-8,7e-8,8e-8,9e-8,1e-7,2e-7,3e-7,4e-7,5e-7,6e-7,7e-7,8e-7,9e-7,1e-6,2e-6,3e-6,4e-6,5e-6,6e-6,7e-6,8e-6,9e-6,1e-5,2e-5,3e-5,4e-5,5e-5,6e-5,7e-5,8e-5,9e-5,1e-4,2e-4,3e-4,4e-4,5e-4,6e-4,7e-4,8e-4,9e-4,1e-3,2e-3,3e-3,4e-3,5e-3,6e-3,7e-3,8e-3,9e-3,0.01,0.02,0.03,0.04,0.05,0.06,0.07,0.08,0.09,0.1,0.2,0.3,0.4,0.5,0.6,0.7,0.8,0.9,1], "tickSize": -8, "encode": {"ticks": {"y2": {"condition": {"test": "indexof([1e-8,1e-5,0.01], datum.value) >= 0", "value": -8}, "value": -4}}}, "labels": false, "title": null}},
                 "y": {"field": "z", "type": "quantitative", "scale": {"domain": [1, 40], "nice": false, "zero": false}, "axis": {"orient": "left", "values": [5, 15, 25, 35], "tickSize": -8, "labels": false, "title": null}},
                 "color": {"field": "s", "type": "nominal", "scale": {"domain": ["Point 1", "Point 2", "Point 3"], "range": ["#0000ff", "#008000", "#ff0000"]}, "legend": null},
                 "order": {"field": "z", "type": "quantitative"}}},
              {"data": {"name": "ref"}, "transform": [{"filter": "datum.g==='H2O'"}],
               "mark": {"type": "line", "color": "#000000", "strokeWidth": 2.7, "strokeDash": [10, 6], "clip": true, "interpolate": "catmull-rom"},
               "encoding": {
                 "x": {"field": "v", "type": "quantitative", "scale": {"type": "log", "domain": [1.12e-10, 1.58], "nice": false}, "axis": {"orient": "top", "values": [2e-10,3e-10,4e-10,5e-10,6e-10,7e-10,8e-10,9e-10,1e-9,2e-9,3e-9,4e-9,5e-9,6e-9,7e-9,8e-9,9e-9,1e-8,2e-8,3e-8,4e-8,5e-8,6e-8,7e-8,8e-8,9e-8,1e-7,2e-7,3e-7,4e-7,5e-7,6e-7,7e-7,8e-7,9e-7,1e-6,2e-6,3e-6,4e-6,5e-6,6e-6,7e-6,8e-6,9e-6,1e-5,2e-5,3e-5,4e-5,5e-5,6e-5,7e-5,8e-5,9e-5,1e-4,2e-4,3e-4,4e-4,5e-4,6e-4,7e-4,8e-4,9e-4,1e-3,2e-3,3e-3,4e-3,5e-3,6e-3,7e-3,8e-3,9e-3,0.01,0.02,0.03,0.04,0.05,0.06,0.07,0.08,0.09,0.1,0.2,0.3,0.4,0.5,0.6,0.7,0.8,0.9,1], "tickSize": -8, "encode": {"ticks": {"y2": {"condition": {"test": "indexof([1e-8,1e-5,0.01], datum.value) >= 0", "value": 8}, "value": 4}}}, "labels": false, "title": null}},
                 "y": {"field": "z", "type": "quantitative", "scale": {"domain": [1, 40], "nice": false, "zero": false}, "axis": {"orient": "right", "values": [5, 15, 25, 35], "tickSize": -8, "labels": false, "title": null}},
                 "order": {"field": "z", "type": "quantitative"}}}
            ]},
            {"width": 171, "height": 228, "layer": [
              {"data": {"name": "pts"}, "transform": [{"filter": "datum.m==='2.3'&&datum.g==='N2O'"}],
               "mark": {"type": "line", "strokeWidth": 3.3, "clip": true, "interpolate": "catmull-rom"},
               "encoding": {
                 "x": {"field": "v", "type": "quantitative", "scale": {"type": "log", "domain": [9.77e-10, 8.05e-7], "nice": false}, "axis": {"orient": "bottom", "values": [1e-9,2e-9,3e-9,4e-9,5e-9,6e-9,7e-9,8e-9,9e-9,1e-8,2e-8,3e-8,4e-8,5e-8,6e-8,7e-8,8e-8,9e-8,1e-7,2e-7,3e-7,4e-7,5e-7,6e-7,7e-7,8e-7], "tickSize": -8, "encode": {"ticks": {"y2": {"condition": {"test": "indexof([1e-8,1e-7], datum.value) >= 0", "value": -8}, "value": -4}}}, "labels": false, "title": null}},
                 "y": {"field": "z", "type": "quantitative", "scale": {"domain": [1, 40], "nice": false, "zero": false}, "axis": {"orient": "left", "values": [5, 15, 25, 35], "tickSize": -8, "labels": false, "title": null}},
                 "color": {"field": "s", "type": "nominal", "scale": {"domain": ["Point 1", "Point 2", "Point 3"], "range": ["#0000ff", "#008000", "#ff0000"]}, "legend": null},
                 "order": {"field": "z", "type": "quantitative"}}},
              {"data": {"name": "ref"}, "transform": [{"filter": "datum.g==='N2O'"}],
               "mark": {"type": "line", "color": "#000000", "strokeWidth": 2.7, "strokeDash": [10, 6], "clip": true, "interpolate": "catmull-rom"},
               "encoding": {
                 "x": {"field": "v", "type": "quantitative", "scale": {"type": "log", "domain": [9.77e-10, 8.05e-7], "nice": false}, "axis": {"orient": "top", "values": [1e-9,2e-9,3e-9,4e-9,5e-9,6e-9,7e-9,8e-9,9e-9,1e-8,2e-8,3e-8,4e-8,5e-8,6e-8,7e-8,8e-8,9e-8,1e-7,2e-7,3e-7,4e-7,5e-7,6e-7,7e-7,8e-7], "tickSize": -8, "encode": {"ticks": {"y2": {"condition": {"test": "indexof([1e-8,1e-7], datum.value) >= 0", "value": 8}, "value": 4}}}, "labels": false, "title": null}},
                 "y": {"field": "z", "type": "quantitative", "scale": {"domain": [1, 40], "nice": false, "zero": false}, "axis": {"orient": "right", "values": [5, 15, 25, 35], "tickSize": -8, "labels": false, "title": null}},
                 "order": {"field": "z", "type": "quantitative"}}}
            ]},
            {"width": 171, "height": 228, "layer": [
              {"data": {"name": "pts"}, "transform": [{"filter": "datum.m==='2.3'&&datum.g==='CH3Cl'"}],
               "mark": {"type": "line", "strokeWidth": 3.3, "clip": true, "interpolate": "catmull-rom"},
               "encoding": {
                 "x": {"field": "v", "type": "quantitative", "scale": {"type": "log", "domain": [8.32e-14, 5.89e-7], "nice": false}, "axis": {"orient": "bottom", "values": [9e-14,1e-13,2e-13,3e-13,4e-13,5e-13,6e-13,7e-13,8e-13,9e-13,1e-12,2e-12,3e-12,4e-12,5e-12,6e-12,7e-12,8e-12,9e-12,1e-11,2e-11,3e-11,4e-11,5e-11,6e-11,7e-11,8e-11,9e-11,1e-10,2e-10,3e-10,4e-10,5e-10,6e-10,7e-10,8e-10,9e-10,1e-9,2e-9,3e-9,4e-9,5e-9,6e-9,7e-9,8e-9,9e-9,1e-8,2e-8,3e-8,4e-8,5e-8,6e-8,7e-8,8e-8,9e-8,1e-7,2e-7,3e-7,4e-7,5e-7], "tickSize": -8, "encode": {"ticks": {"y2": {"condition": {"test": "indexof([1e-11,1e-9,1e-7], datum.value) >= 0", "value": -8}, "value": -4}}}, "labels": false, "title": null}},
                 "y": {"field": "z", "type": "quantitative", "scale": {"domain": [1, 40], "nice": false, "zero": false}, "axis": {"orient": "left", "values": [5, 15, 25, 35], "tickSize": -8, "labels": false, "title": null}},
                 "color": {"field": "s", "type": "nominal", "scale": {"domain": ["Point 1", "Point 2", "Point 3"], "range": ["#0000ff", "#008000", "#ff0000"]}, "legend": null},
                 "order": {"field": "z", "type": "quantitative"}}},
              {"data": {"name": "ref"}, "transform": [{"filter": "datum.g==='CH3Cl'"}],
               "mark": {"type": "line", "color": "#000000", "strokeWidth": 2.7, "strokeDash": [10, 6], "clip": true, "interpolate": "catmull-rom"},
               "encoding": {
                 "x": {"field": "v", "type": "quantitative", "scale": {"type": "log", "domain": [8.32e-14, 5.89e-7], "nice": false}, "axis": {"orient": "top", "values": [9e-14,1e-13,2e-13,3e-13,4e-13,5e-13,6e-13,7e-13,8e-13,9e-13,1e-12,2e-12,3e-12,4e-12,5e-12,6e-12,7e-12,8e-12,9e-12,1e-11,2e-11,3e-11,4e-11,5e-11,6e-11,7e-11,8e-11,9e-11,1e-10,2e-10,3e-10,4e-10,5e-10,6e-10,7e-10,8e-10,9e-10,1e-9,2e-9,3e-9,4e-9,5e-9,6e-9,7e-9,8e-9,9e-9,1e-8,2e-8,3e-8,4e-8,5e-8,6e-8,7e-8,8e-8,9e-8,1e-7,2e-7,3e-7,4e-7,5e-7], "tickSize": -8, "encode": {"ticks": {"y2": {"condition": {"test": "indexof([1e-11,1e-9,1e-7], datum.value) >= 0", "value": 8}, "value": 4}}}, "labels": false, "title": null}},
                 "y": {"field": "z", "type": "quantitative", "scale": {"domain": [1, 40], "nice": false, "zero": false}, "axis": {"orient": "right", "values": [5, 15, 25, 35], "tickSize": -8, "labels": false, "title": "2.3 M☉", "titleAngle": 270, "titleBaseline": "top", "titlePadding": 10}},
                 "order": {"field": "z", "type": "quantitative"}}}
            ]},
            {"width": 171, "height": 228, "layer": [
              {"data": {"name": "pts"}, "transform": [{"filter": "datum.m==='3.0'&&datum.g==='T'"}],
               "mark": {"type": "line", "strokeWidth": 3.3, "clip": true, "interpolate": "catmull-rom"},
               "encoding": {
                 "x": {"field": "v", "type": "quantitative", "scale": {"domain": [130, 318], "nice": false, "zero": false}, "axis": {"orient": "bottom", "values": [150, 220, 290], "tickSize": -8, "labelPadding": 18, "title": "T (K)", "titlePadding": 5}},
                 "y": {"field": "z", "type": "quantitative", "scale": {"domain": [1, 40], "nice": false, "zero": false}, "axis": {"orient": "left", "values": [5, 15, 25, 35], "tickSize": -8, "labelPadding": 13, "title": null}},
                 "color": {"field": "s", "type": "nominal", "scale": {"domain": ["Point 1", "Point 2", "Point 3"], "range": ["#0000ff", "#008000", "#ff0000"]}, "legend": null},
                 "order": {"field": "z", "type": "quantitative"}}},
              {"data": {"name": "ref"}, "transform": [{"filter": "datum.g==='T'"}],
               "mark": {"type": "line", "color": "#000000", "strokeWidth": 2.7, "strokeDash": [10, 6], "clip": true, "interpolate": "catmull-rom"},
               "encoding": {
                 "x": {"field": "v", "type": "quantitative", "scale": {"domain": [130, 318], "nice": false, "zero": false}, "axis": {"orient": "top", "values": [150, 220, 290], "tickSize": -8, "labels": false, "title": null}},
                 "y": {"field": "z", "type": "quantitative", "scale": {"domain": [1, 40], "nice": false, "zero": false}, "axis": {"orient": "right", "values": [5, 15, 25, 35], "tickSize": -8, "labels": false, "title": null}},
                 "order": {"field": "z", "type": "quantitative"}}}
            ]},
            {"width": 171, "height": 228, "layer": [
              {"data": {"name": "pts"}, "transform": [{"filter": "datum.m==='3.0'&&datum.g==='O3'"}],
               "mark": {"type": "line", "strokeWidth": 3.3, "clip": true, "interpolate": "catmull-rom"},
               "encoding": {
                 "x": {"field": "v", "type": "quantitative", "scale": {"type": "log", "domain": [1.15e-8, 4.68e-5], "nice": false}, "axis": {"orient": "bottom", "values": [2e-8,3e-8,4e-8,5e-8,6e-8,7e-8,8e-8,9e-8,1e-7,2e-7,3e-7,4e-7,5e-7,6e-7,7e-7,8e-7,9e-7,1e-6,2e-6,3e-6,4e-6,5e-6,6e-6,7e-6,8e-6,9e-6,1e-5,2e-5,3e-5,4e-5], "tickSize": -8, "encode": {"ticks": {"y2": {"condition": {"test": "indexof([1e-7,1e-6,1e-5], datum.value) >= 0", "value": -8}, "value": -4}}}, "labelExpr": "datum.value===1e-7?'10⁻⁷':datum.value===1e-6?'10⁻⁶':datum.value===1e-5?'10⁻⁵':''", "labelPadding": 18, "title": "O₃", "titlePadding": 5}},
                 "y": {"field": "z", "type": "quantitative", "scale": {"domain": [1, 40], "nice": false, "zero": false}, "axis": {"orient": "left", "values": [5, 15, 25, 35], "tickSize": -8, "labels": false, "title": null}},
                 "color": {"field": "s", "type": "nominal", "scale": {"domain": ["Point 1", "Point 2", "Point 3"], "range": ["#0000ff", "#008000", "#ff0000"]}, "legend": null},
                 "order": {"field": "z", "type": "quantitative"}}},
              {"data": {"name": "ref"}, "transform": [{"filter": "datum.g==='O3'"}],
               "mark": {"type": "line", "color": "#000000", "strokeWidth": 2.7, "strokeDash": [10, 6], "clip": true, "interpolate": "catmull-rom"},
               "encoding": {
                 "x": {"field": "v", "type": "quantitative", "scale": {"type": "log", "domain": [1.15e-8, 4.68e-5], "nice": false}, "axis": {"orient": "top", "values": [2e-8,3e-8,4e-8,5e-8,6e-8,7e-8,8e-8,9e-8,1e-7,2e-7,3e-7,4e-7,5e-7,6e-7,7e-7,8e-7,9e-7,1e-6,2e-6,3e-6,4e-6,5e-6,6e-6,7e-6,8e-6,9e-6,1e-5,2e-5,3e-5,4e-5], "tickSize": -8, "encode": {"ticks": {"y2": {"condition": {"test": "indexof([1e-7,1e-6,1e-5], datum.value) >= 0", "value": 8}, "value": 4}}}, "labels": false, "title": null}},
                 "y": {"field": "z", "type": "quantitative", "scale": {"domain": [1, 40], "nice": false, "zero": false}, "axis": {"orient": "right", "values": [5, 15, 25, 35], "tickSize": -8, "labels": false, "title": null}},
                 "order": {"field": "z", "type": "quantitative"}}}
            ]},
            {"width": 171, "height": 228, "layer": [
              {"data": {"name": "pts"}, "transform": [{"filter": "datum.m==='3.0'&&datum.g==='CH4'"}],
               "mark": {"type": "line", "strokeWidth": 3.3, "clip": true, "interpolate": "catmull-rom"},
               "encoding": {
                 "x": {"field": "v", "type": "quantitative", "scale": {"type": "log", "domain": [3.09e-8, 3.98e-3], "nice": false}, "axis": {"orient": "bottom", "values": [4e-8,5e-8,6e-8,7e-8,8e-8,9e-8,1e-7,2e-7,3e-7,4e-7,5e-7,6e-7,7e-7,8e-7,9e-7,1e-6,2e-6,3e-6,4e-6,5e-6,6e-6,7e-6,8e-6,9e-6,1e-5,2e-5,3e-5,4e-5,5e-5,6e-5,7e-5,8e-5,9e-5,1e-4,2e-4,3e-4,4e-4,5e-4,6e-4,7e-4,8e-4,9e-4,1e-3,2e-3,3e-3], "tickSize": -8, "encode": {"ticks": {"y2": {"condition": {"test": "indexof([1e-6,1e-4], datum.value) >= 0", "value": -8}, "value": -4}}}, "labelExpr": "datum.value===1e-6?'10⁻⁶':datum.value===1e-4?'10⁻⁴':''", "labelPadding": 18, "title": "CH₄", "titlePadding": 5}},
                 "y": {"field": "z", "type": "quantitative", "scale": {"domain": [1, 40], "nice": false, "zero": false}, "axis": {"orient": "left", "values": [5, 15, 25, 35], "tickSize": -8, "labels": false, "title": null}},
                 "color": {"field": "s", "type": "nominal", "scale": {"domain": ["Point 1", "Point 2", "Point 3"], "range": ["#0000ff", "#008000", "#ff0000"]}, "legend": null},
                 "order": {"field": "z", "type": "quantitative"}}},
              {"data": {"name": "ref"}, "transform": [{"filter": "datum.g==='CH4'"}],
               "mark": {"type": "line", "color": "#000000", "strokeWidth": 2.7, "strokeDash": [10, 6], "clip": true, "interpolate": "catmull-rom"},
               "encoding": {
                 "x": {"field": "v", "type": "quantitative", "scale": {"type": "log", "domain": [3.09e-8, 3.98e-3], "nice": false}, "axis": {"orient": "top", "values": [4e-8,5e-8,6e-8,7e-8,8e-8,9e-8,1e-7,2e-7,3e-7,4e-7,5e-7,6e-7,7e-7,8e-7,9e-7,1e-6,2e-6,3e-6,4e-6,5e-6,6e-6,7e-6,8e-6,9e-6,1e-5,2e-5,3e-5,4e-5,5e-5,6e-5,7e-5,8e-5,9e-5,1e-4,2e-4,3e-4,4e-4,5e-4,6e-4,7e-4,8e-4,9e-4,1e-3,2e-3,3e-3], "tickSize": -8, "encode": {"ticks": {"y2": {"condition": {"test": "indexof([1e-6,1e-4], datum.value) >= 0", "value": 8}, "value": 4}}}, "labels": false, "title": null}},
                 "y": {"field": "z", "type": "quantitative", "scale": {"domain": [1, 40], "nice": false, "zero": false}, "axis": {"orient": "right", "values": [5, 15, 25, 35], "tickSize": -8, "labels": false, "title": null}},
                 "order": {"field": "z", "type": "quantitative"}}}
            ]},
            {"width": 171, "height": 228, "layer": [
              {"data": {"name": "pts"}, "transform": [{"filter": "datum.m==='3.0'&&datum.g==='H2O'"}],
               "mark": {"type": "line", "strokeWidth": 3.3, "clip": true},
               "encoding": {
                 "x": {"field": "v", "type": "quantitative", "scale": {"type": "log", "domain": [1.12e-10, 1.58], "nice": false}, "axis": {"orient": "bottom", "values": [2e-10,3e-10,4e-10,5e-10,6e-10,7e-10,8e-10,9e-10,1e-9,2e-9,3e-9,4e-9,5e-9,6e-9,7e-9,8e-9,9e-9,1e-8,2e-8,3e-8,4e-8,5e-8,6e-8,7e-8,8e-8,9e-8,1e-7,2e-7,3e-7,4e-7,5e-7,6e-7,7e-7,8e-7,9e-7,1e-6,2e-6,3e-6,4e-6,5e-6,6e-6,7e-6,8e-6,9e-6,1e-5,2e-5,3e-5,4e-5,5e-5,6e-5,7e-5,8e-5,9e-5,1e-4,2e-4,3e-4,4e-4,5e-4,6e-4,7e-4,8e-4,9e-4,1e-3,2e-3,3e-3,4e-3,5e-3,6e-3,7e-3,8e-3,9e-3,0.01,0.02,0.03,0.04,0.05,0.06,0.07,0.08,0.09,0.1,0.2,0.3,0.4,0.5,0.6,0.7,0.8,0.9,1], "tickSize": -8, "encode": {"ticks": {"y2": {"condition": {"test": "indexof([1e-8,1e-5,0.01], datum.value) >= 0", "value": -8}, "value": -4}}}, "labelExpr": "datum.value===1e-8?'10⁻⁸':datum.value===1e-5?'10⁻⁵':datum.value===0.01?'10⁻²':''", "labelPadding": 18, "title": "H₂O", "titlePadding": 5}},
                 "y": {"field": "z", "type": "quantitative", "scale": {"domain": [1, 40], "nice": false, "zero": false}, "axis": {"orient": "left", "values": [5, 15, 25, 35], "tickSize": -8, "labels": false, "title": null}},
                 "color": {"field": "s", "type": "nominal", "scale": {"domain": ["Point 1", "Point 2", "Point 3"], "range": ["#0000ff", "#008000", "#ff0000"]}, "legend": null},
                 "order": {"field": "z", "type": "quantitative"}}},
              {"data": {"name": "ref"}, "transform": [{"filter": "datum.g==='H2O'"}],
               "mark": {"type": "line", "color": "#000000", "strokeWidth": 2.7, "strokeDash": [10, 6], "clip": true, "interpolate": "catmull-rom"},
               "encoding": {
                 "x": {"field": "v", "type": "quantitative", "scale": {"type": "log", "domain": [1.12e-10, 1.58], "nice": false}, "axis": {"orient": "top", "values": [2e-10,3e-10,4e-10,5e-10,6e-10,7e-10,8e-10,9e-10,1e-9,2e-9,3e-9,4e-9,5e-9,6e-9,7e-9,8e-9,9e-9,1e-8,2e-8,3e-8,4e-8,5e-8,6e-8,7e-8,8e-8,9e-8,1e-7,2e-7,3e-7,4e-7,5e-7,6e-7,7e-7,8e-7,9e-7,1e-6,2e-6,3e-6,4e-6,5e-6,6e-6,7e-6,8e-6,9e-6,1e-5,2e-5,3e-5,4e-5,5e-5,6e-5,7e-5,8e-5,9e-5,1e-4,2e-4,3e-4,4e-4,5e-4,6e-4,7e-4,8e-4,9e-4,1e-3,2e-3,3e-3,4e-3,5e-3,6e-3,7e-3,8e-3,9e-3,0.01,0.02,0.03,0.04,0.05,0.06,0.07,0.08,0.09,0.1,0.2,0.3,0.4,0.5,0.6,0.7,0.8,0.9,1], "tickSize": -8, "encode": {"ticks": {"y2": {"condition": {"test": "indexof([1e-8,1e-5,0.01], datum.value) >= 0", "value": 8}, "value": 4}}}, "labels": false, "title": null}},
                 "y": {"field": "z", "type": "quantitative", "scale": {"domain": [1, 40], "nice": false, "zero": false}, "axis": {"orient": "right", "values": [5, 15, 25, 35], "tickSize": -8, "labels": false, "title": null}},
                 "order": {"field": "z", "type": "quantitative"}}}
            ]},
            {"width": 171, "height": 228, "layer": [
              {"data": {"name": "pts"}, "transform": [{"filter": "datum.m==='3.0'&&datum.g==='N2O'"}],
               "mark": {"type": "line", "strokeWidth": 3.3, "clip": true, "interpolate": "catmull-rom"},
               "encoding": {
                 "x": {"field": "v", "type": "quantitative", "scale": {"type": "log", "domain": [9.77e-10, 8.05e-7], "nice": false}, "axis": {"orient": "bottom", "values": [1e-9,2e-9,3e-9,4e-9,5e-9,6e-9,7e-9,8e-9,9e-9,1e-8,2e-8,3e-8,4e-8,5e-8,6e-8,7e-8,8e-8,9e-8,1e-7,2e-7,3e-7,4e-7,5e-7,6e-7,7e-7,8e-7], "tickSize": -8, "encode": {"ticks": {"y2": {"condition": {"test": "indexof([1e-8,1e-7], datum.value) >= 0", "value": -8}, "value": -4}}}, "labelExpr": "datum.value===1e-8?'10⁻⁸':datum.value===1e-7?'10⁻⁷':''", "labelPadding": 18, "title": "N₂O", "titlePadding": 5}},
                 "y": {"field": "z", "type": "quantitative", "scale": {"domain": [1, 40], "nice": false, "zero": false}, "axis": {"orient": "left", "values": [5, 15, 25, 35], "tickSize": -8, "labels": false, "title": null}},
                 "color": {"field": "s", "type": "nominal", "scale": {"domain": ["Point 1", "Point 2", "Point 3"], "range": ["#0000ff", "#008000", "#ff0000"]}, "legend": null},
                 "order": {"field": "z", "type": "quantitative"}}},
              {"data": {"name": "ref"}, "transform": [{"filter": "datum.g==='N2O'"}],
               "mark": {"type": "line", "color": "#000000", "strokeWidth": 2.7, "strokeDash": [10, 6], "clip": true, "interpolate": "catmull-rom"},
               "encoding": {
                 "x": {"field": "v", "type": "quantitative", "scale": {"type": "log", "domain": [9.77e-10, 8.05e-7], "nice": false}, "axis": {"orient": "top", "values": [1e-9,2e-9,3e-9,4e-9,5e-9,6e-9,7e-9,8e-9,9e-9,1e-8,2e-8,3e-8,4e-8,5e-8,6e-8,7e-8,8e-8,9e-8,1e-7,2e-7,3e-7,4e-7,5e-7,6e-7,7e-7,8e-7], "tickSize": -8, "encode": {"ticks": {"y2": {"condition": {"test": "indexof([1e-8,1e-7], datum.value) >= 0", "value": 8}, "value": 4}}}, "labels": false, "title": null}},
                 "y": {"field": "z", "type": "quantitative", "scale": {"domain": [1, 40], "nice": false, "zero": false}, "axis": {"orient": "right", "values": [5, 15, 25, 35], "tickSize": -8, "labels": false, "title": null}},
                 "order": {"field": "z", "type": "quantitative"}}}
            ]},
            {"width": 171, "height": 228, "layer": [
              {"data": {"name": "pts"}, "transform": [{"filter": "datum.m==='3.0'&&datum.g==='CH3Cl'"}],
               "mark": {"type": "line", "strokeWidth": 3.3, "clip": true, "interpolate": "catmull-rom"},
               "encoding": {
                 "x": {"field": "v", "type": "quantitative", "scale": {"type": "log", "domain": [8.32e-14, 5.89e-7], "nice": false}, "axis": {"orient": "bottom", "values": [9e-14,1e-13,2e-13,3e-13,4e-13,5e-13,6e-13,7e-13,8e-13,9e-13,1e-12,2e-12,3e-12,4e-12,5e-12,6e-12,7e-12,8e-12,9e-12,1e-11,2e-11,3e-11,4e-11,5e-11,6e-11,7e-11,8e-11,9e-11,1e-10,2e-10,3e-10,4e-10,5e-10,6e-10,7e-10,8e-10,9e-10,1e-9,2e-9,3e-9,4e-9,5e-9,6e-9,7e-9,8e-9,9e-9,1e-8,2e-8,3e-8,4e-8,5e-8,6e-8,7e-8,8e-8,9e-8,1e-7,2e-7,3e-7,4e-7,5e-7], "tickSize": -8, "encode": {"ticks": {"y2": {"condition": {"test": "indexof([1e-11,1e-9,1e-7], datum.value) >= 0", "value": -8}, "value": -4}}}, "labelExpr": "datum.value===1e-11?'10⁻¹¹':datum.value===1e-9?'10⁻⁹':datum.value===1e-7?'10⁻⁷':''", "labelPadding": 18, "title": "CH₃Cl", "titlePadding": 5}},
                 "y": {"field": "z", "type": "quantitative", "scale": {"domain": [1, 40], "nice": false, "zero": false}, "axis": {"orient": "left", "values": [5, 15, 25, 35], "tickSize": -8, "labels": false, "title": null}},
                 "color": {"field": "s", "type": "nominal", "scale": {"domain": ["Point 1", "Point 2", "Point 3"], "range": ["#0000ff", "#008000", "#ff0000"]}, "legend": {"orient": "bottom-left", "title": null, "offset": 19, "padding": 0, "symbolType": "stroke", "symbolStrokeWidth": 4, "symbolSize": 900, "symbolOffset": -5, "labelFontSize": 19, "labelFont": "DejaVu Sans", "labelColor": "black", "labelOffset": 20, "rowPadding": 2}},
                 "order": {"field": "z", "type": "quantitative"}}},
              {"data": {"name": "ref"}, "transform": [{"filter": "datum.g==='CH3Cl'"}],
               "mark": {"type": "line", "color": "#000000", "strokeWidth": 2.7, "strokeDash": [10, 6], "clip": true, "interpolate": "catmull-rom"},
               "encoding": {
                 "x": {"field": "v", "type": "quantitative", "scale": {"type": "log", "domain": [8.32e-14, 5.89e-7], "nice": false}, "axis": {"orient": "top", "values": [9e-14,1e-13,2e-13,3e-13,4e-13,5e-13,6e-13,7e-13,8e-13,9e-13,1e-12,2e-12,3e-12,4e-12,5e-12,6e-12,7e-12,8e-12,9e-12,1e-11,2e-11,3e-11,4e-11,5e-11,6e-11,7e-11,8e-11,9e-11,1e-10,2e-10,3e-10,4e-10,5e-10,6e-10,7e-10,8e-10,9e-10,1e-9,2e-9,3e-9,4e-9,5e-9,6e-9,7e-9,8e-9,9e-9,1e-8,2e-8,3e-8,4e-8,5e-8,6e-8,7e-8,8e-8,9e-8,1e-7,2e-7,3e-7,4e-7,5e-7], "tickSize": -8, "encode": {"ticks": {"y2": {"condition": {"test": "indexof([1e-11,1e-9,1e-7], datum.value) >= 0", "value": 8}, "value": 4}}}, "labels": false, "title": null}},
                 "y": {"field": "z", "type": "quantitative", "scale": {"domain": [1, 40], "nice": false, "zero": false}, "axis": {"orient": "right", "values": [5, 15, 25, 35], "tickSize": -8, "labels": false, "title": "3.0 M☉", "titleAngle": 270, "titleBaseline": "top", "titlePadding": 10}},
                 "order": {"field": "z", "type": "quantitative"}}}
            ]}
      ]
    }
  ],
  "spacing": 0,
  "resolve": {"scale": {"color": "independent"}, "legend": {"color": "independent"}},
  "config": {
    "font": "DejaVu Sans",
    "view": {"stroke": "#000000", "strokeWidth": 2},
    "axis": {"domain": false, "grid": false, "tickColor": "#000000", "tickWidth": 1.3, "labelColor": "#000000", "labelFont": "DejaVu Sans", "labelFontSize": 23, "titleFont": "DejaVu Sans", "titleFontSize": 28, "titleFontWeight": "normal", "titleColor": "#000000", "minExtent": 0, "labelOverlap": false, "labelFlush": false, "labelBound": false},
    "axisX": {"minExtent": 0},
    "axisY": {"minExtent": 0},
    "title": {"font": "DejaVu Sans", "fontSize": 28, "fontWeight": "normal", "color": "#000000"}
  }
}
